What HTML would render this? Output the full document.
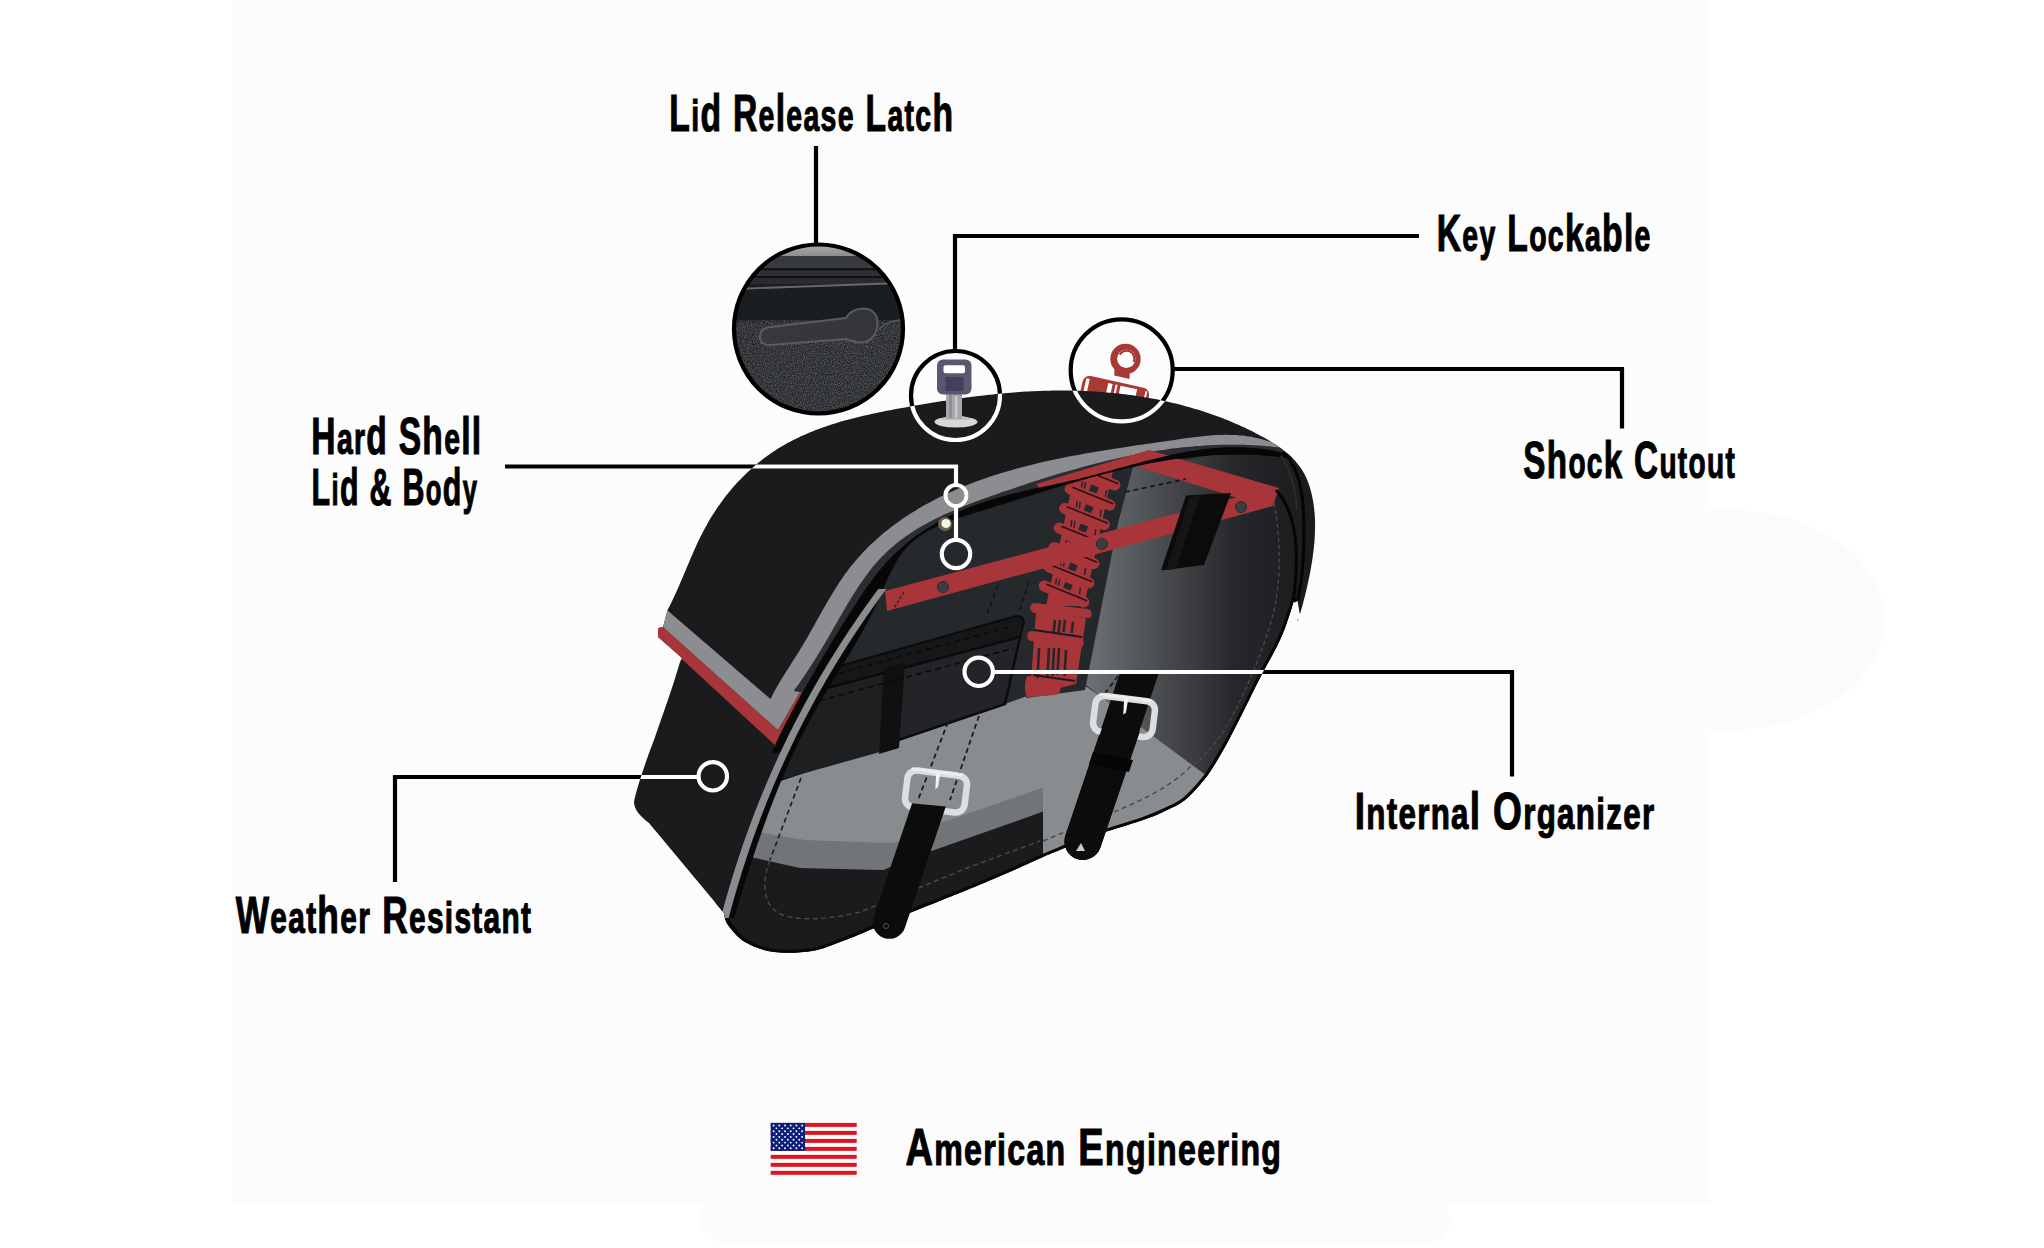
<!DOCTYPE html>
<html><head><meta charset="utf-8"><style>
html,body{margin:0;padding:0;background:#fff;overflow:hidden;width:2044px;height:1248px;}
svg{display:block;}
text{font-family:"Liberation Sans",sans-serif;font-weight:bold;font-size:51.5px;fill:#000;stroke:#000;stroke-width:1.1px;vector-effect:non-scaling-stroke;}
</style></head><body>
<svg width="2044" height="1248" viewBox="0 0 2044 1248">
<defs><clipPath id="bagclip"><path d="M667.5,610.2 L668.8,607.6 L670.2,604.9 L671.5,602.2 L672.8,599.5 L674.1,596.8 L675.3,594.1 L676.6,591.4 L677.8,588.6 L679.0,585.9 L680.2,583.1 L681.4,580.3 L682.6,577.6 L683.7,574.8 L684.9,572.0 L686.1,569.2 L687.2,566.4 L688.4,563.7 L689.6,560.9 L690.8,558.1 L692.0,555.3 L693.2,552.6 L694.4,549.8 L695.7,547.0 L696.9,544.3 L698.2,541.6 L699.5,538.8 L700.8,536.1 L702.2,533.4 L703.6,530.7 L705.0,528.0 L706.5,525.4 L707.9,522.8 L709.5,520.1 L711.0,517.5 L712.6,515.0 L714.2,512.4 L715.9,509.9 L717.6,507.3 L719.3,504.9 L721.1,502.4 L722.9,499.9 L724.7,497.5 L726.6,495.1 L728.5,492.8 L730.4,490.4 L732.4,488.1 L734.4,485.8 L736.4,483.6 L738.5,481.3 L740.6,479.2 L742.7,477.0 L744.8,474.9 L747.0,472.8 L749.2,470.7 L751.4,468.7 L753.7,466.7 L756.0,464.7 L758.3,462.8 L760.6,460.9 L763.0,459.1 L765.4,457.3 L767.8,455.5 L770.3,453.8 L772.7,452.1 L775.2,450.4 L777.7,448.8 L780.3,447.3 L782.8,445.7 L785.4,444.2 L788.0,442.8 L790.6,441.4 L793.3,440.0 L796.0,438.7 L798.7,437.4 L801.4,436.1 L804.1,434.9 L806.8,433.7 L809.6,432.5 L812.4,431.4 L815.2,430.3 L818.0,429.2 L820.8,428.2 L823.6,427.2 L826.5,426.2 L829.3,425.2 L832.2,424.3 L835.1,423.4 L838.0,422.5 L840.9,421.6 L843.8,420.8 L846.8,420.0 L849.7,419.2 L852.7,418.4 L855.6,417.7 L858.6,416.9 L861.6,416.2 L864.5,415.5 L867.5,414.9 L870.5,414.2 L873.5,413.5 L876.5,412.9 L879.5,412.3 L882.5,411.7 L885.5,411.1 L888.5,410.5 L891.5,409.9 L894.5,409.3 L897.5,408.8 L900.5,408.2 L903.6,407.7 L906.6,407.2 L909.6,406.6 L912.6,406.1 L915.6,405.6 L918.6,405.1 L921.6,404.5 L924.5,404.0 L927.5,403.5 L930.5,403.0 L933.5,402.6 L936.5,402.1 L939.5,401.6 L942.4,401.1 L945.4,400.7 L948.4,400.2 L951.4,399.8 L954.3,399.3 L957.3,398.9 L960.3,398.5 L963.2,398.0 L966.2,397.6 L969.2,397.2 L972.1,396.8 L975.1,396.5 L978.1,396.1 L981.0,395.7 L984.0,395.4 L987.0,395.0 L989.9,394.7 L992.9,394.4 L995.9,394.1 L998.8,393.8 L1001.8,393.5 L1004.8,393.2 L1007.7,393.0 L1010.7,392.7 L1013.7,392.5 L1016.6,392.2 L1019.6,392.0 L1022.6,391.8 L1025.6,391.6 L1028.5,391.5 L1031.5,391.3 L1034.5,391.2 L1037.5,391.0 L1040.5,390.9 L1043.4,390.8 L1046.4,390.7 L1049.4,390.7 L1052.4,390.6 L1055.4,390.6 L1058.4,390.5 L1061.4,390.5 L1064.4,390.5 L1067.4,390.6 L1070.4,390.6 L1073.5,390.7 L1076.5,390.7 L1079.5,390.8 L1082.5,390.9 L1085.5,391.0 L1088.6,391.2 L1091.6,391.3 L1094.6,391.5 L1097.6,391.7 L1100.7,391.9 L1103.7,392.2 L1106.7,392.4 L1109.7,392.7 L1112.8,393.0 L1115.8,393.3 L1118.8,393.6 L1121.8,394.0 L1124.9,394.3 L1127.9,394.7 L1130.9,395.1 L1133.9,395.5 L1136.9,396.0 L1140.0,396.4 L1143.0,396.9 L1146.0,397.4 L1149.0,397.9 L1152.0,398.5 L1155.0,399.1 L1158.0,399.6 L1160.9,400.3 L1163.9,400.9 L1166.9,401.5 L1169.9,402.2 L1172.8,402.9 L1175.8,403.6 L1178.8,404.3 L1181.7,405.1 L1184.6,405.9 L1187.6,406.7 L1190.5,407.5 L1193.4,408.4 L1196.3,409.2 L1199.3,410.1 L1202.2,411.0 L1205.0,412.0 L1207.9,412.9 L1210.8,413.9 L1213.7,414.9 L1216.5,416.0 L1219.4,417.0 L1222.2,418.1 L1225.0,419.2 L1227.9,420.3 L1230.7,421.5 L1233.5,422.7 L1236.3,423.9 L1239.0,425.1 L1241.8,426.4 L1244.6,427.6 L1247.3,429.0 L1250.0,430.3 L1252.7,431.6 L1255.4,433.0 L1258.1,434.4 L1260.8,435.9 L1263.5,437.3 L1266.1,438.8 L1268.7,440.3 L1271.3,441.9 L1273.9,443.5 L1276.4,445.1 L1278.8,446.8 L1281.2,448.6 L1283.6,450.4 L1285.9,452.2 L1288.1,454.1 L1290.3,456.0 L1292.4,458.0 L1294.4,460.1 L1296.3,462.2 L1298.1,464.4 L1299.8,466.7 L1301.5,469.1 L1303.0,471.5 L1304.4,474.0 L1305.7,476.6 L1306.9,479.3 L1308.0,482.0 L1309.0,484.7 L1309.9,487.6 L1310.7,490.4 L1311.5,493.3 L1312.1,496.2 L1312.7,499.2 L1313.3,502.2 L1313.7,505.1 L1314.1,508.2 L1314.4,511.2 L1314.7,514.2 L1314.9,517.3 L1315.0,520.4 L1315.1,523.5 L1315.1,526.6 L1315.0,529.7 L1314.9,532.8 L1314.8,535.9 L1314.6,539.0 L1314.4,542.2 L1314.1,545.3 L1313.8,548.4 L1313.4,551.5 L1313.0,554.6 L1312.6,557.8 L1312.1,560.9 L1311.6,563.9 L1311.1,567.0 L1310.6,570.1 L1310.0,573.2 L1309.4,576.2 L1308.7,579.2 L1308.1,582.2 L1307.4,585.2 L1306.8,588.2 L1306.1,591.1 L1305.4,594.0 L1304.7,596.9 L1303.9,599.7 L1303.2,602.6 L1302.5,605.4 L1301.7,608.1 L1300.9,610.9 L1300.1,613.6 L1299.3,616.3 L1298.5,619.0 L1297.7,621.6 L1294,600 C1293.3,603.0 1288.3,619.3 1285.0,628.0 C1281.7,636.7 1278.7,642.7 1275.0,650.0 C1271.3,657.3 1267.3,663.7 1263.0,672.0 C1258.7,680.3 1253.3,691.3 1249.0,700.0 C1244.7,708.7 1240.8,716.5 1237.0,724.0 C1233.2,731.5 1229.7,738.3 1226.0,745.0 C1222.3,751.7 1218.7,758.2 1215.0,764.0 C1211.3,769.8 1209.0,774.0 1204.0,780.0 C1199.0,786.0 1191.5,794.8 1185.0,800.0 C1178.5,805.2 1172.0,807.7 1165.0,811.0 C1158.0,814.3 1155.0,815.8 1143.0,820.0 C1131.0,824.2 1106.5,831.2 1093.0,836.0 C1079.5,840.8 1070.3,845.5 1062.0,849.0 C1053.7,852.5 1052.5,852.8 1043.0,857.0 C1033.5,861.2 1017.7,868.5 1005.0,874.0 C992.3,879.5 977.5,885.7 967.0,890.0 C956.5,894.3 952.0,896.0 942.0,900.0 C932.0,904.0 919.8,908.7 907.0,914.0 C894.2,919.3 876.2,927.3 865.0,932.0 C853.8,936.7 848.8,938.8 840.0,942.0 C831.2,945.2 823.0,949.3 812.0,951.0 C801.0,952.7 785.2,953.5 774.0,952.0 C762.8,950.5 752.7,946.5 745.0,942.0 C737.3,937.5 731.5,929.8 728.0,925.0 C724.5,920.2 724.7,915.0 724.0,913.0 L649,823 C641,817 634,810 634,802 C636,790 648,755 654,740 C662,716 672,690 680,662 L682,658 L658,637 L658,628 L663,627 Z"/></clipPath></defs>
<rect width="2044" height="1248" fill="#fff"/>
<rect x="232" y="0" width="1478" height="1205" fill="#fcfcfc"/>
<rect x="700" y="1200" width="750" height="42" rx="20" fill="#fcfcfc"/>
<rect x="540" y="45" width="590" height="145" rx="72" fill="#fbfbfb"/>
<ellipse cx="1727" cy="620" rx="158" ry="110" fill="#fbfbfb"/>
<g transform="translate(1090.4,376) rotate(12.4)">
<rect x="-6.5" y="0" width="68" height="30" rx="7" ry="7" fill="#a83a36"/>
<rect x="-3.5" y="3" width="3.5" height="30" fill="#fff"/>
<rect x="19" y="3" width="4.5" height="30" fill="#fff"/>
<rect x="26.5" y="3" width="2.0" height="30" fill="#fff"/>
<rect x="31.5" y="3" width="17.0" height="30" fill="#fff"/>
<rect x="57" y="3" width="2" height="30" fill="#fff"/>
</g>
<path d="M667.5,610.2 L668.8,607.6 L670.2,604.9 L671.5,602.2 L672.8,599.5 L674.1,596.8 L675.3,594.1 L676.6,591.4 L677.8,588.6 L679.0,585.9 L680.2,583.1 L681.4,580.3 L682.6,577.6 L683.7,574.8 L684.9,572.0 L686.1,569.2 L687.2,566.4 L688.4,563.7 L689.6,560.9 L690.8,558.1 L692.0,555.3 L693.2,552.6 L694.4,549.8 L695.7,547.0 L696.9,544.3 L698.2,541.6 L699.5,538.8 L700.8,536.1 L702.2,533.4 L703.6,530.7 L705.0,528.0 L706.5,525.4 L707.9,522.8 L709.5,520.1 L711.0,517.5 L712.6,515.0 L714.2,512.4 L715.9,509.9 L717.6,507.3 L719.3,504.9 L721.1,502.4 L722.9,499.9 L724.7,497.5 L726.6,495.1 L728.5,492.8 L730.4,490.4 L732.4,488.1 L734.4,485.8 L736.4,483.6 L738.5,481.3 L740.6,479.2 L742.7,477.0 L744.8,474.9 L747.0,472.8 L749.2,470.7 L751.4,468.7 L753.7,466.7 L756.0,464.7 L758.3,462.8 L760.6,460.9 L763.0,459.1 L765.4,457.3 L767.8,455.5 L770.3,453.8 L772.7,452.1 L775.2,450.4 L777.7,448.8 L780.3,447.3 L782.8,445.7 L785.4,444.2 L788.0,442.8 L790.6,441.4 L793.3,440.0 L796.0,438.7 L798.7,437.4 L801.4,436.1 L804.1,434.9 L806.8,433.7 L809.6,432.5 L812.4,431.4 L815.2,430.3 L818.0,429.2 L820.8,428.2 L823.6,427.2 L826.5,426.2 L829.3,425.2 L832.2,424.3 L835.1,423.4 L838.0,422.5 L840.9,421.6 L843.8,420.8 L846.8,420.0 L849.7,419.2 L852.7,418.4 L855.6,417.7 L858.6,416.9 L861.6,416.2 L864.5,415.5 L867.5,414.9 L870.5,414.2 L873.5,413.5 L876.5,412.9 L879.5,412.3 L882.5,411.7 L885.5,411.1 L888.5,410.5 L891.5,409.9 L894.5,409.3 L897.5,408.8 L900.5,408.2 L903.6,407.7 L906.6,407.2 L909.6,406.6 L912.6,406.1 L915.6,405.6 L918.6,405.1 L921.6,404.5 L924.5,404.0 L927.5,403.5 L930.5,403.0 L933.5,402.6 L936.5,402.1 L939.5,401.6 L942.4,401.1 L945.4,400.7 L948.4,400.2 L951.4,399.8 L954.3,399.3 L957.3,398.9 L960.3,398.5 L963.2,398.0 L966.2,397.6 L969.2,397.2 L972.1,396.8 L975.1,396.5 L978.1,396.1 L981.0,395.7 L984.0,395.4 L987.0,395.0 L989.9,394.7 L992.9,394.4 L995.9,394.1 L998.8,393.8 L1001.8,393.5 L1004.8,393.2 L1007.7,393.0 L1010.7,392.7 L1013.7,392.5 L1016.6,392.2 L1019.6,392.0 L1022.6,391.8 L1025.6,391.6 L1028.5,391.5 L1031.5,391.3 L1034.5,391.2 L1037.5,391.0 L1040.5,390.9 L1043.4,390.8 L1046.4,390.7 L1049.4,390.7 L1052.4,390.6 L1055.4,390.6 L1058.4,390.5 L1061.4,390.5 L1064.4,390.5 L1067.4,390.6 L1070.4,390.6 L1073.5,390.7 L1076.5,390.7 L1079.5,390.8 L1082.5,390.9 L1085.5,391.0 L1088.6,391.2 L1091.6,391.3 L1094.6,391.5 L1097.6,391.7 L1100.7,391.9 L1103.7,392.2 L1106.7,392.4 L1109.7,392.7 L1112.8,393.0 L1115.8,393.3 L1118.8,393.6 L1121.8,394.0 L1124.9,394.3 L1127.9,394.7 L1130.9,395.1 L1133.9,395.5 L1136.9,396.0 L1140.0,396.4 L1143.0,396.9 L1146.0,397.4 L1149.0,397.9 L1152.0,398.5 L1155.0,399.1 L1158.0,399.6 L1160.9,400.3 L1163.9,400.9 L1166.9,401.5 L1169.9,402.2 L1172.8,402.9 L1175.8,403.6 L1178.8,404.3 L1181.7,405.1 L1184.6,405.9 L1187.6,406.7 L1190.5,407.5 L1193.4,408.4 L1196.3,409.2 L1199.3,410.1 L1202.2,411.0 L1205.0,412.0 L1207.9,412.9 L1210.8,413.9 L1213.7,414.9 L1216.5,416.0 L1219.4,417.0 L1222.2,418.1 L1225.0,419.2 L1227.9,420.3 L1230.7,421.5 L1233.5,422.7 L1236.3,423.9 L1239.0,425.1 L1241.8,426.4 L1244.6,427.6 L1247.3,429.0 L1250.0,430.3 L1252.7,431.6 L1255.4,433.0 L1258.1,434.4 L1260.8,435.9 L1263.5,437.3 L1266.1,438.8 L1268.7,440.3 L1271.3,441.9 L1273.9,443.5 L1276.4,445.1 L1278.8,446.8 L1281.2,448.6 L1283.6,450.4 L1285.9,452.2 L1288.1,454.1 L1290.3,456.0 L1292.4,458.0 L1294.4,460.1 L1296.3,462.2 L1298.1,464.4 L1299.8,466.7 L1301.5,469.1 L1303.0,471.5 L1304.4,474.0 L1305.7,476.6 L1306.9,479.3 L1308.0,482.0 L1309.0,484.7 L1309.9,487.6 L1310.7,490.4 L1311.5,493.3 L1312.1,496.2 L1312.7,499.2 L1313.3,502.2 L1313.7,505.1 L1314.1,508.2 L1314.4,511.2 L1314.7,514.2 L1314.9,517.3 L1315.0,520.4 L1315.1,523.5 L1315.1,526.6 L1315.0,529.7 L1314.9,532.8 L1314.8,535.9 L1314.6,539.0 L1314.4,542.2 L1314.1,545.3 L1313.8,548.4 L1313.4,551.5 L1313.0,554.6 L1312.6,557.8 L1312.1,560.9 L1311.6,563.9 L1311.1,567.0 L1310.6,570.1 L1310.0,573.2 L1309.4,576.2 L1308.7,579.2 L1308.1,582.2 L1307.4,585.2 L1306.8,588.2 L1306.1,591.1 L1305.4,594.0 L1304.7,596.9 L1303.9,599.7 L1303.2,602.6 L1302.5,605.4 L1301.7,608.1 L1300.9,610.9 L1300.1,613.6 L1299.3,616.3 L1298.5,619.0 L1297.7,621.6 L1294,600 C1293.3,603.0 1288.3,619.3 1285.0,628.0 C1281.7,636.7 1278.7,642.7 1275.0,650.0 C1271.3,657.3 1267.3,663.7 1263.0,672.0 C1258.7,680.3 1253.3,691.3 1249.0,700.0 C1244.7,708.7 1240.8,716.5 1237.0,724.0 C1233.2,731.5 1229.7,738.3 1226.0,745.0 C1222.3,751.7 1218.7,758.2 1215.0,764.0 C1211.3,769.8 1209.0,774.0 1204.0,780.0 C1199.0,786.0 1191.5,794.8 1185.0,800.0 C1178.5,805.2 1172.0,807.7 1165.0,811.0 C1158.0,814.3 1155.0,815.8 1143.0,820.0 C1131.0,824.2 1106.5,831.2 1093.0,836.0 C1079.5,840.8 1070.3,845.5 1062.0,849.0 C1053.7,852.5 1052.5,852.8 1043.0,857.0 C1033.5,861.2 1017.7,868.5 1005.0,874.0 C992.3,879.5 977.5,885.7 967.0,890.0 C956.5,894.3 952.0,896.0 942.0,900.0 C932.0,904.0 919.8,908.7 907.0,914.0 C894.2,919.3 876.2,927.3 865.0,932.0 C853.8,936.7 848.8,938.8 840.0,942.0 C831.2,945.2 823.0,949.3 812.0,951.0 C801.0,952.7 785.2,953.5 774.0,952.0 C762.8,950.5 752.7,946.5 745.0,942.0 C737.3,937.5 731.5,929.8 728.0,925.0 C724.5,920.2 724.7,915.0 724.0,913.0 L649,823 C641,817 634,810 634,802 C636,790 648,755 654,740 C662,716 672,690 680,662 L682,658 L658,637 L658,628 L663,627 Z" fill="#1b1b1d"/>
<g clip-path="url(#bagclip)"><path d="M1292.2,458.5 L1289.1,458.1 L1286.1,457.7 L1283.1,457.3 L1280.0,456.9 L1277.0,456.5 L1274.0,456.2 L1270.9,455.9 L1267.9,455.7 L1264.9,455.4 L1261.9,455.2 L1258.8,455.0 L1255.8,454.9 L1252.8,454.7 L1249.8,454.6 L1246.8,454.5 L1243.8,454.5 L1240.8,454.4 L1237.8,454.4 L1234.8,454.4 L1231.8,454.5 L1228.8,454.5 L1225.8,454.6 L1222.9,454.7 L1219.9,454.8 L1216.9,455.0 L1213.9,455.1 L1210.9,455.3 L1208.0,455.5 L1205.0,455.8 L1202.0,456.0 L1199.1,456.3 L1196.1,456.6 L1193.1,456.9 L1190.2,457.2 L1187.2,457.5 L1184.3,457.9 L1181.3,458.3 L1178.3,458.7 L1175.4,459.1 L1172.4,459.6 L1169.5,460.0 L1166.5,460.5 L1163.6,461.0 L1160.7,461.5 L1157.7,462.0 L1154.8,462.5 L1151.8,463.1 L1148.9,463.6 L1146.0,464.2 L1143.0,464.8 L1140.1,465.4 L1137.1,466.0 L1134.2,466.7 L1131.3,467.3 L1128.3,468.0 L1125.4,468.6 L1122.5,469.3 L1119.6,470.0 L1116.6,470.7 L1113.7,471.5 L1110.8,472.2 L1107.9,472.9 L1104.9,473.7 L1102.0,474.4 L1099.1,475.2 L1096.2,476.0 L1093.2,476.8 L1090.3,477.6 L1087.4,478.4 L1084.5,479.2 L1081.5,480.0 L1078.6,480.9 L1075.7,481.7 L1072.8,482.5 L1069.9,483.4 L1066.9,484.2 L1064.0,485.1 L1061.1,486.0 L1058.2,486.9 L1055.2,487.7 L1052.3,488.6 L1049.4,489.5 L1046.5,490.4 L1043.5,491.3 L1040.6,492.2 L1037.7,493.1 L1034.8,494.0 L1031.9,494.9 L1028.9,495.9 L1026.0,496.8 L1023.1,497.7 L1020.1,498.6 L1017.2,499.5 L1014.3,500.5 L1011.4,501.4 L1008.4,502.3 L1005.5,503.2 L1002.6,504.2 L999.6,505.1 L996.7,506.0 L993.8,506.9 L990.8,507.9 L987.9,508.8 L984.9,509.7 L982.0,510.6 L979.1,511.5 L976.1,512.4 L973.2,513.3 L970.2,514.3 L967.3,515.2 L964.4,516.1 L961.5,517.1 L958.6,518.0 L955.7,519.0 L952.9,520.0 L950.0,521.0 L947.2,522.1 L944.5,523.2 L941.7,524.3 L939.0,525.5 L936.4,526.7 L933.8,527.9 L931.2,529.2 L928.6,530.6 L926.2,532.0 L923.7,533.4 L921.4,535.0 L919.0,536.6 L916.8,538.2 L914.6,539.9 L912.5,541.7 L910.4,543.6 L908.4,545.6 L906.5,547.6 L904.7,549.7 L902.9,551.9 L901.2,554.2 L899.6,556.5 L898.0,558.9 L896.5,561.4 L895.0,563.9 L893.6,566.5 L892.2,569.2 L890.9,571.8 L889.6,574.5 L888.3,577.3 L887.0,580.1 L885.7,582.9 L884.5,585.7 L883.3,588.5 L882.0,591.3 L880.8,594.2 L879.6,597.0 L878.3,599.8 L877.0,602.6 L875.8,605.4 L874.5,608.2 L873.1,611.0 L871.8,613.7 L870.4,616.5 L869.0,619.2 L867.6,621.9 L866.2,624.6 L864.7,627.3 L863.3,629.9 L861.8,632.6 L860.3,635.2 L858.8,637.9 L857.3,640.5 L855.8,643.1 L854.3,645.7 L852.7,648.3 L851.2,650.9 L849.6,653.5 L848.1,656.1 L846.5,658.6 L844.9,661.2 L843.4,663.8 L841.8,666.3 L840.2,668.9 L838.6,671.4 L837.1,674.0 L835.5,676.6 L833.9,679.1 L832.3,681.7 L830.8,684.2 L829.2,686.8 L827.6,689.4 L826.1,691.9 L824.6,694.5 L823.0,697.1 L821.5,699.7 L820.0,702.3 L818.5,704.8 L817.0,707.5 L815.5,710.1 L814.0,712.7 L812.6,715.3 L811.1,718.0 L809.7,720.6 L808.3,723.3 L806.9,725.9 L805.5,728.6 L804.1,731.3 L802.7,734.0 L801.4,736.7 L800.0,739.4 L798.7,742.1 L797.4,744.8 L796.1,747.5 L794.8,750.2 L793.5,753.0 L792.3,755.7 L791.0,758.5 L789.7,761.2 L788.5,764.0 L787.3,766.8 L786.1,769.5 L784.9,772.3 L783.7,775.1 L782.5,777.9 L781.3,780.7 L780.1,783.5 L779.0,786.3 L777.8,789.1 L776.7,791.9 L775.6,794.7 L774.5,797.5 L773.4,800.4 L772.3,803.2 L771.2,806.0 L770.1,808.9 L769.0,811.7 L768.0,814.5 L766.9,817.4 L765.9,820.2 L764.8,823.1 L763.8,825.9 L762.8,828.8 L761.8,831.7 L760.8,834.5 L759.8,837.4 L758.8,840.2 L757.8,843.1 L756.8,846.0 L755.8,848.8 L754.9,851.7 L753.9,854.6 L753.0,857.4 L752.0,860.3 L751.1,863.2 L750.2,866.1 L749.2,868.9 L748.3,871.8 L747.4,874.7 L746.5,877.5 L745.6,880.4 L744.7,883.3 L743.8,886.2 L742.9,889.0 L742.1,891.9 L741.2,894.8 L740.3,897.6 L739.4,900.5 L738.6,903.3 L737.7,906.2 L736.9,909.0 L736.0,911.9 L735.2,914.8 L734.3,917.6 L725,916C725.8,917.7 726.7,921.7 730.0,926.0 C733.3,930.3 737.7,937.7 745.0,942.0 C752.3,946.3 762.8,950.5 774.0,952.0 C785.2,953.5 801.0,952.7 812.0,951.0 C823.0,949.3 831.2,945.2 840.0,942.0 C848.8,938.8 853.8,936.7 865.0,932.0 C876.2,927.3 894.2,919.3 907.0,914.0 C919.8,908.7 932.0,904.0 942.0,900.0 C952.0,896.0 956.5,894.3 967.0,890.0 C977.5,885.7 992.3,879.5 1005.0,874.0 C1017.7,868.5 1033.5,861.2 1043.0,857.0 C1052.5,852.8 1053.7,852.5 1062.0,849.0 C1070.3,845.5 1079.5,840.8 1093.0,836.0 C1106.5,831.2 1131.0,824.2 1143.0,820.0 C1155.0,815.8 1158.0,814.3 1165.0,811.0 C1172.0,807.7 1178.5,805.2 1185.0,800.0 C1191.5,794.8 1199.0,786.0 1204.0,780.0 C1209.0,774.0 1211.3,769.8 1215.0,764.0 C1218.7,758.2 1222.3,751.7 1226.0,745.0 C1229.7,738.3 1233.2,731.5 1237.0,724.0 C1240.8,716.5 1244.7,708.7 1249.0,700.0 C1253.3,691.3 1258.7,680.3 1263.0,672.0 C1267.3,663.7 1271.3,657.3 1275.0,650.0 C1278.7,642.7 1281.7,636.7 1285.0,628.0 C1288.3,619.3 1293.3,603.0 1295.0,598.0 L1300,560 L1301,520 L1300,485 L1296,468 Z" fill="#26292c"/>
<defs><linearGradient id="wallg" x1="1085" y1="0" x2="1300" y2="0" gradientUnits="userSpaceOnUse"><stop offset="0" stop-color="#6f7275"/><stop offset="0.35" stop-color="#4a4d50"/><stop offset="0.7" stop-color="#26272a"/><stop offset="1" stop-color="#1c1d1f"/></linearGradient></defs>
<path d="M1134.0,463.0 L1077.0,678.0 L1100.0,696.0 L1149.0,733.0 L1199.0,770.0 L1208.0,776.0 L1215.0,764.0 L1226.0,745.0 L1237.0,724.0 L1249.0,700.0 L1263.0,672.0 L1275.0,650.0 L1285.0,628.0 L1295.0,598.0 L1300.0,560.0 L1301.0,520.0 L1300.0,485.0 L1296.0,468.0 L1280.0,456.0 L1230.0,451.0 L1172.0,463.0 Z" fill="url(#wallg)"/>
<path d="M780.0,780.0 L1005.0,704.0 L1075.0,679.0 L1100.0,696.0 L1149.0,733.0 L1199.0,770.0 L1207.0,776.0 L1204.0,780.0 L1185.0,800.0 L1165.0,811.0 L1143.0,820.0 L1093.0,835.0 L1062.0,849.0 L1043.0,857.0 L1005.0,874.0 L967.0,890.0 L942.0,900.0 L907.0,914.0 L865.0,932.0 L840.0,942.0 L812.0,951.0 L774.0,952.0 L745.0,942.0 L730.0,926.0 L725.0,916.0 L735.0,880.0 L750.0,840.0 L765.0,800.0 Z" fill="#898c8f"/>
<path d="M757.0,832.0 L805.0,840.0 L888.0,843.0 L912.0,840.0 L935.0,825.0 L1043.0,787.5 L1043.0,811.6 L930.0,851.5 L883.0,870.0 L800.0,868.0 L751.0,857.0 Z" fill="#727578"/>
<path d="M751.0,857.0 L800.0,868.0 L883.0,870.0 L930.0,851.5 L1043.0,811.6 L1043.0,856.0 L1005.0,873.0 L967.0,889.0 L942.0,899.0 L907.0,914.0 L880.0,928.0 L865.0,933.0 L840.0,942.0 L812.0,951.0 L774.0,952.0 L745.0,942.0 L730.0,926.0 L725.0,916.0 L735.0,880.0 Z" fill="#1b1b1d"/>
<path d="M790.0,676.0 L847.0,664.0 L1016.0,616.0 L1022.0,617.0 L1024.0,622.0 L1020.0,637.0 L790.0,700.0 Z" fill="#161719" stroke="#0b0b0c" stroke-width="2"/>
<path d="M790.0,698.0 L1020.0,637.0 L1005.0,704.0 L780.0,780.0 Z" fill="#232427" stroke="#0b0b0c" stroke-width="2.5"/>
<path d="M790,700 L884,676 L880,752 L780,780 Z" fill="#1e1f21"/>
<path d="M884.0,668.0 L905.0,662.0 L899.0,748.0 L879.0,754.0 Z" fill="#101011"/>
<g stroke="#0a0a0b" stroke-width="1.6" stroke-dasharray="6,4" fill="none"><path d="M800,684 L1012,626"/><path d="M800,706 L1014,648"/></g>
<path d="M1062,470 L1130,462 L1085,690 L1026,698 Z" fill="#25282b"/>
<path d="M1036,612 L1086,618 L1076,684 L1052,690 L1030,694 Z" fill="#a83539"/>
<path d="M1034,603 L1088,609 C1093,610 1093,618 1088,618 L1034,613 C1029,612 1029,603 1034,603 Z" fill="#a83539"/>
<path d="M1031,631 L1080,638 C1085,639 1085,647 1080,647 L1031,641 C1026,640 1026,631 1031,631 Z" fill="#a83539"/>
<path d="M1028,676 L1058,679 C1062,680 1062,694 1056,695 L1028,697 C1024,697 1024,676 1028,676 Z" fill="#a83539"/>
<path d="M1055,620 L1053.5,633" stroke="#25282b" stroke-width="2.6"/>
<path d="M1060,620 L1058.5,633" stroke="#25282b" stroke-width="2.6"/>
<path d="M1065,620 L1063.5,632" stroke="#25282b" stroke-width="2.6"/>
<path d="M1073,622 L1071.5,633" stroke="#25282b" stroke-width="2.6"/>
<path d="M1049,648 L1047.5,676" stroke="#25282b" stroke-width="2.6"/>
<path d="M1054,648 L1052.5,676" stroke="#25282b" stroke-width="2.6"/>
<path d="M1059,648 L1057.5,675" stroke="#25282b" stroke-width="2.6"/>
<path d="M1066,650 L1064.5,676" stroke="#25282b" stroke-width="2.6"/>
<path d="M1039,648 L1037.5,678" stroke="#25282b" stroke-width="2.6"/>
<path d="M1034,630 L1082,637" stroke="#1a1b1d" stroke-width="2"/>
<path d="M1033,675 L1075,681" stroke="#1a1b1d" stroke-width="2"/>
<path d="M1076,468 L1114,466 L1084,606 L1046,606 Z" fill="#a83539"/>
<rect x="1090.5" y="485.0" width="8" height="8" fill="#25282b" transform="rotate(22 1092.5 487.0)"/>
<path d="M1082.5,481.0 L1081.5,488.0 M1085.5,482.0 L1084.5,489.0 M1106.5,490.0 L1105.5,497.0" stroke="#25282b" stroke-width="1.6"/>
<rect x="1085.2" y="504.8" width="8" height="8" fill="#25282b" transform="rotate(22 1087.2 506.8)"/>
<path d="M1077.2,500.8 L1076.2,507.8 M1080.2,501.8 L1079.2,508.8 M1101.2,509.8 L1100.2,516.8" stroke="#25282b" stroke-width="1.6"/>
<rect x="1079.8" y="524.2" width="8" height="8" fill="#25282b" transform="rotate(22 1081.8 526.2)"/>
<path d="M1071.8,520.2 L1070.8,527.2 M1074.8,521.2 L1073.8,528.2 M1095.8,529.2 L1094.8,536.2" stroke="#25282b" stroke-width="1.6"/>
<rect x="1074.5" y="543.8" width="8" height="8" fill="#25282b" transform="rotate(22 1076.5 545.8)"/>
<path d="M1066.5,539.8 L1065.5,546.8 M1069.5,540.8 L1068.5,547.8 M1090.5,548.8 L1089.5,555.8" stroke="#25282b" stroke-width="1.6"/>
<rect x="1069.5" y="563.2" width="8" height="8" fill="#25282b" transform="rotate(22 1071.5 565.2)"/>
<path d="M1061.5,559.2 L1060.5,566.2 M1064.5,560.2 L1063.5,567.2 M1085.5,568.2 L1084.5,575.2" stroke="#25282b" stroke-width="1.6"/>
<rect x="1064.5" y="582.5" width="8" height="8" fill="#25282b" transform="rotate(22 1066.5 584.5)"/>
<path d="M1056.5,578.5 L1055.5,585.5 M1059.5,579.5 L1058.5,586.5 M1080.5,587.5 L1079.5,594.5" stroke="#25282b" stroke-width="1.6"/>
<g transform="rotate(22 1095 477)">
<rect x="1068.0" y="471.5" width="54" height="11" rx="5.5" ry="5.5" fill="#a83539"/>
<path d="M1075.0,474.5 L1119.0,474.5" stroke="#2a1213" stroke-width="1.6"/>
</g>
<g transform="rotate(22 1090 497)">
<rect x="1063.0" y="491.5" width="54" height="11" rx="5.5" ry="5.5" fill="#a83539"/>
<path d="M1070.0,494.5 L1114.0,494.5" stroke="#2a1213" stroke-width="1.6"/>
</g>
<g transform="rotate(22 1084.5 516.5)">
<rect x="1057.5" y="511.0" width="54" height="11" rx="5.5" ry="5.5" fill="#a83539"/>
<path d="M1064.5,514.0 L1108.5,514.0" stroke="#2a1213" stroke-width="1.6"/>
</g>
<g transform="rotate(22 1079 536)">
<rect x="1052.0" y="530.5" width="54" height="11" rx="5.5" ry="5.5" fill="#a83539"/>
<path d="M1059.0,533.5 L1103.0,533.5" stroke="#2a1213" stroke-width="1.6"/>
</g>
<g transform="rotate(22 1074 555.5)">
<rect x="1047.0" y="550.0" width="54" height="11" rx="5.5" ry="5.5" fill="#a83539"/>
<path d="M1054.0,553.0 L1098.0,553.0" stroke="#2a1213" stroke-width="1.6"/>
</g>
<g transform="rotate(22 1069 575)">
<rect x="1042.0" y="569.5" width="54" height="11" rx="5.5" ry="5.5" fill="#a83539"/>
<path d="M1049.0,572.5 L1093.0,572.5" stroke="#2a1213" stroke-width="1.6"/>
</g>
<g transform="rotate(22 1064 594)">
<rect x="1037.0" y="588.5" width="54" height="11" rx="5.5" ry="5.5" fill="#a83539"/>
<path d="M1044.0,591.5 L1088.0,591.5" stroke="#2a1213" stroke-width="1.6"/>
</g>
<path d="M1295.0,598.0 C1293.3,603.0 1288.3,619.3 1285.0,628.0 C1281.7,636.7 1278.7,642.7 1275.0,650.0 C1271.3,657.3 1267.3,663.7 1263.0,672.0 C1258.7,680.3 1253.3,691.3 1249.0,700.0 C1244.7,708.7 1240.8,716.5 1237.0,724.0 C1233.2,731.5 1229.7,738.3 1226.0,745.0 C1222.3,751.7 1218.7,758.2 1215.0,764.0 C1211.3,769.8 1209.0,774.0 1204.0,780.0 C1199.0,786.0 1191.5,794.8 1185.0,800.0 C1178.5,805.2 1172.0,807.7 1165.0,811.0 C1158.0,814.3 1155.0,815.8 1143.0,820.0 C1131.0,824.2 1106.5,831.2 1093.0,836.0 C1079.5,840.8 1070.3,845.5 1062.0,849.0 C1053.7,852.5 1052.5,852.8 1043.0,857.0 C1033.5,861.2 1017.7,868.5 1005.0,874.0 C992.3,879.5 977.5,885.7 967.0,890.0 C956.5,894.3 952.0,896.0 942.0,900.0 C932.0,904.0 919.8,908.7 907.0,914.0 C894.2,919.3 876.2,927.3 865.0,932.0 C853.8,936.7 848.8,938.8 840.0,942.0 C831.2,945.2 823.0,949.3 812.0,951.0 C801.0,952.7 785.2,953.5 774.0,952.0 C762.8,950.5 752.3,946.3 745.0,942.0 C737.7,937.7 733.3,930.3 730.0,926.0 C726.7,921.7 725.8,917.7 725.0,916.0" fill="none" stroke="#070707" stroke-width="6"/>
<path d="M1290.3,454.7 L1287.2,453.9 L1284.1,453.1 L1281.0,452.4 L1277.9,451.7 L1274.8,451.1 L1271.8,450.5 L1268.7,450.0 L1265.7,449.5 L1262.6,449.1 L1259.6,448.7 L1256.6,448.4 L1253.5,448.1 L1250.5,447.9 L1247.5,447.7 L1244.5,447.6 L1241.5,447.4 L1238.5,447.4 L1235.6,447.4 L1232.6,447.4 L1229.6,447.4 L1226.6,447.5 L1223.7,447.6 L1220.7,447.8 L1217.8,448.0 L1214.8,448.2 L1211.9,448.5 L1209.0,448.8 L1206.0,449.1 L1203.1,449.5 L1200.2,449.8 L1197.2,450.2 L1194.3,450.7 L1191.4,451.1 L1188.5,451.6 L1185.6,452.1 L1182.6,452.7 L1179.7,453.2 L1176.8,453.8 L1173.9,454.4 L1171.0,455.0 L1168.1,455.7 L1165.2,456.3 L1162.3,457.0 L1159.4,457.7 L1156.5,458.4 L1153.6,459.1 L1150.7,459.8 L1147.7,460.5 L1144.8,461.3 L1141.9,462.0 L1139.0,462.8 L1136.1,463.6 L1133.2,464.3 L1130.3,465.1 L1127.4,465.9 L1124.4,466.7 L1121.5,467.5 L1118.6,468.3 L1115.7,469.1 L1112.7,469.9 L1109.8,470.7 L1106.9,471.5 L1103.9,472.3 L1101.0,473.1 L1098.0,473.9 L1095.1,474.7 L1092.1,475.4 L1089.2,476.2 L1086.2,477.0 L1083.2,477.7 L1080.2,478.5 L1077.3,479.2 L1074.3,479.9 L1071.3,480.6 L1068.3,481.3 L1065.3,482.0 L1062.3,482.7 L1059.2,483.3 L1056.2,484.0 L1053.2,484.7 L1050.2,485.3 L1047.2,486.0 L1044.2,486.6 L1041.2,487.3 L1038.1,488.0 L1035.1,488.6 L1032.1,489.3 L1029.1,490.0 L1026.1,490.6 L1023.1,491.3 L1020.1,492.0 L1017.1,492.7 L1014.2,493.5 L1011.2,494.2 L1008.2,494.9 L1005.3,495.7 L1002.3,496.5 L999.4,497.3 L996.5,498.1 L993.6,499.0 L990.7,499.8 L987.8,500.7 L984.9,501.6 L982.1,502.6 L979.2,503.5 L976.4,504.5 L973.6,505.5 L970.8,506.6 L968.0,507.7 L965.2,508.8 L962.5,509.9 L959.7,511.1 L957.0,512.3 L954.3,513.5 L951.7,514.8 L949.0,516.1 L946.4,517.4 L943.7,518.7 L941.1,520.1 L938.6,521.5 L936.0,523.0 L933.5,524.4 L931.0,525.9 L928.5,527.5 L926.0,529.0 L923.6,530.6 L921.1,532.3 L918.8,533.9 L916.4,535.6 L914.0,537.3 L911.7,539.1 L909.4,540.9 L907.1,542.7 L904.9,544.6 L902.7,546.5 L900.5,548.4 L898.3,550.3 L896.2,552.3 L894.1,554.4 L892.0,556.4 L889.9,558.5 L887.9,560.6 L885.9,562.8 L884.0,565.0 L882.0,567.2 L880.1,569.5 L878.3,571.8 L876.4,574.1 L874.6,576.5 L872.8,578.8 L871.0,581.2 L869.3,583.7 L867.5,586.1 L865.8,588.6 L864.1,591.1 L862.4,593.6 L860.8,596.1 L859.1,598.6 L857.4,601.1 L855.8,603.7 L854.2,606.2 L852.5,608.8 L850.9,611.3 L849.3,613.9 L847.6,616.4 L846.0,619.0 L844.4,621.6 L842.8,624.1 L841.2,626.7 L839.6,629.3 L838.0,631.9 L836.4,634.4 L834.8,637.0 L833.2,639.6 L831.7,642.2 L830.1,644.8 L828.5,647.4 L827.0,650.0 L825.4,652.6 L823.9,655.2 L822.3,657.8 L820.8,660.4 L819.2,663.0 L817.7,665.6 L816.2,668.2 L814.7,670.9 L813.2,673.5 L811.7,676.1 L810.2,678.7 L808.7,681.4 L807.2,684.0 L805.7,686.7 L804.2,689.3 L802.8,691.9 L801.3,694.6 L799.9,697.2 L798.4,699.9 L797.0,702.6 L795.6,705.2 L794.1,707.9 L792.7,710.6 L791.3,713.2 L789.9,715.9 L788.5,718.6 L787.1,721.3 L785.8,723.9 L784.4,726.6 L783.0,729.3 L781.7,732.0 L780.3,734.7 L779.0,737.4 L777.6,740.1 L776.3,742.8 L775.0,745.5 L773.7,748.3 L772.4,751.0 L771.1,753.7 L769.8,756.4 L768.5,759.2 L767.3,761.9 L766.0,764.6 L764.8,767.4 L763.5,770.1 L762.3,772.8 L761.1,775.6 L759.8,778.4 L758.6,781.1 L757.4,783.9 L756.2,786.6 L755.1,789.4 L753.9,792.2 L752.7,795.0 L751.6,797.7 L750.4,800.5 L749.3,803.3 L748.2,806.1 L747.0,808.9 L745.9,811.7 L744.8,814.5 L743.8,817.3 L742.7,820.1 L741.6,822.9 L740.5,825.8 L739.5,828.6 L738.4,831.4 L737.4,834.2 L736.4,837.1 L735.4,839.9 L734.4,842.8 L733.4,845.6 L732.4,848.5 L731.4,851.3 L730.5,854.2 L729.5,857.0 L728.6,859.9 L727.6,862.8 L726.7,865.7 L725.8,868.6 L724.9,871.4 L724.0,874.3 L723.1,877.2 L722.3,880.1 L721.4,883.0 L720.6,885.9 L719.7,888.9 L718.9,891.8 L718.1,894.7 L717.3,897.6 L716.5,900.6 L715.7,903.5 L715.0,906.4 L714.2,909.4 L713.5,912.3 L712.7,915.3 L712.0,918.3 L734.3,917.6 L735.2,914.8 L736.0,911.9 L736.9,909.0 L737.7,906.2 L738.6,903.3 L739.4,900.5 L740.3,897.6 L741.2,894.8 L742.1,891.9 L742.9,889.0 L743.8,886.2 L744.7,883.3 L745.6,880.4 L746.5,877.5 L747.4,874.7 L748.3,871.8 L749.2,868.9 L750.2,866.1 L751.1,863.2 L752.0,860.3 L753.0,857.4 L753.9,854.6 L754.9,851.7 L755.8,848.8 L756.8,846.0 L757.8,843.1 L758.8,840.2 L759.8,837.4 L760.8,834.5 L761.8,831.7 L762.8,828.8 L763.8,825.9 L764.8,823.1 L765.9,820.2 L766.9,817.4 L768.0,814.5 L769.0,811.7 L770.1,808.9 L771.2,806.0 L772.3,803.2 L773.4,800.4 L774.5,797.5 L775.6,794.7 L776.7,791.9 L777.8,789.1 L779.0,786.3 L780.1,783.5 L781.3,780.7 L782.5,777.9 L783.7,775.1 L784.9,772.3 L786.1,769.5 L787.3,766.8 L788.5,764.0 L789.7,761.2 L791.0,758.5 L792.3,755.7 L793.5,753.0 L794.8,750.2 L796.1,747.5 L797.4,744.8 L798.7,742.1 L800.0,739.4 L801.4,736.7 L802.7,734.0 L804.1,731.3 L805.5,728.6 L806.9,725.9 L808.3,723.3 L809.7,720.6 L811.1,718.0 L812.6,715.3 L814.0,712.7 L815.5,710.1 L817.0,707.5 L818.5,704.8 L820.0,702.3 L821.5,699.7 L823.0,697.1 L824.6,694.5 L826.1,691.9 L827.6,689.4 L829.2,686.8 L830.8,684.2 L832.3,681.7 L833.9,679.1 L835.5,676.6 L837.1,674.0 L838.6,671.4 L840.2,668.9 L841.8,666.3 L843.4,663.8 L844.9,661.2 L846.5,658.6 L848.1,656.1 L849.6,653.5 L851.2,650.9 L852.7,648.3 L854.3,645.7 L855.8,643.1 L857.3,640.5 L858.8,637.9 L860.3,635.2 L861.8,632.6 L863.3,629.9 L864.7,627.3 L866.2,624.6 L867.6,621.9 L869.0,619.2 L870.4,616.5 L871.8,613.7 L873.1,611.0 L874.5,608.2 L875.8,605.4 L877.0,602.6 L878.3,599.8 L879.6,597.0 L880.8,594.2 L882.0,591.3 L883.3,588.5 L884.5,585.7 L885.7,582.9 L887.0,580.1 L888.3,577.3 L889.6,574.5 L890.9,571.8 L892.2,569.2 L893.6,566.5 L895.0,563.9 L896.5,561.4 L898.0,558.9 L899.6,556.5 L901.2,554.2 L902.9,551.9 L904.7,549.7 L906.5,547.6 L908.4,545.6 L910.4,543.6 L912.5,541.7 L914.6,539.9 L916.8,538.2 L919.0,536.6 L921.4,535.0 L923.7,533.4 L926.2,532.0 L928.6,530.6 L931.2,529.2 L933.8,527.9 L936.4,526.7 L939.0,525.5 L941.7,524.3 L944.5,523.2 L947.2,522.1 L950.0,521.0 L952.9,520.0 L955.7,519.0 L958.6,518.0 L961.5,517.1 L964.4,516.1 L967.3,515.2 L970.2,514.3 L973.2,513.3 L976.1,512.4 L979.1,511.5 L982.0,510.6 L984.9,509.7 L987.9,508.8 L990.8,507.9 L993.8,506.9 L996.7,506.0 L999.6,505.1 L1002.6,504.2 L1005.5,503.2 L1008.4,502.3 L1011.4,501.4 L1014.3,500.5 L1017.2,499.5 L1020.1,498.6 L1023.1,497.7 L1026.0,496.8 L1028.9,495.9 L1031.9,494.9 L1034.8,494.0 L1037.7,493.1 L1040.6,492.2 L1043.5,491.3 L1046.5,490.4 L1049.4,489.5 L1052.3,488.6 L1055.2,487.7 L1058.2,486.9 L1061.1,486.0 L1064.0,485.1 L1066.9,484.2 L1069.9,483.4 L1072.8,482.5 L1075.7,481.7 L1078.6,480.9 L1081.5,480.0 L1084.5,479.2 L1087.4,478.4 L1090.3,477.6 L1093.2,476.8 L1096.2,476.0 L1099.1,475.2 L1102.0,474.4 L1104.9,473.7 L1107.9,472.9 L1110.8,472.2 L1113.7,471.5 L1116.6,470.7 L1119.6,470.0 L1122.5,469.3 L1125.4,468.6 L1128.3,468.0 L1131.3,467.3 L1134.2,466.7 L1137.1,466.0 L1140.1,465.4 L1143.0,464.8 L1146.0,464.2 L1148.9,463.6 L1151.8,463.1 L1154.8,462.5 L1157.7,462.0 L1160.7,461.5 L1163.6,461.0 L1166.5,460.5 L1169.5,460.0 L1172.4,459.6 L1175.4,459.1 L1178.3,458.7 L1181.3,458.3 L1184.3,457.9 L1187.2,457.5 L1190.2,457.2 L1193.1,456.9 L1196.1,456.6 L1199.1,456.3 L1202.0,456.0 L1205.0,455.8 L1208.0,455.5 L1210.9,455.3 L1213.9,455.1 L1216.9,455.0 L1219.9,454.8 L1222.9,454.7 L1225.8,454.6 L1228.8,454.5 L1231.8,454.5 L1234.8,454.4 L1237.8,454.4 L1240.8,454.4 L1243.8,454.5 L1246.8,454.5 L1249.8,454.6 L1252.8,454.7 L1255.8,454.9 L1258.8,455.0 L1261.9,455.2 L1264.9,455.4 L1267.9,455.7 L1270.9,455.9 L1274.0,456.2 L1277.0,456.5 L1280.0,456.9 L1283.1,457.3 L1286.1,457.7 L1289.1,458.1 L1292.2,458.5 Z" fill="#070707"/>
<path d="M771.1,753.7 L769.8,756.4 L768.5,759.2 L767.3,761.9 L766.0,764.6 L764.8,767.4 L763.5,770.1 L762.3,772.8 L761.1,775.6 L759.8,778.4 L758.6,781.1 L757.4,783.9 L756.2,786.6 L755.1,789.4 L753.9,792.2 L752.7,795.0 L751.6,797.7 L750.4,800.5 L749.3,803.3 L748.2,806.1 L747.0,808.9 L745.9,811.7 L744.8,814.5 L743.8,817.3 L742.7,820.1 L741.6,822.9 L740.5,825.8 L739.5,828.6 L738.4,831.4 L737.4,834.2 L736.4,837.1 L735.4,839.9 L734.4,842.8 L733.4,845.6 L732.4,848.5 L731.4,851.3 L730.5,854.2 L729.5,857.0 L728.6,859.9 L727.6,862.8 L726.7,865.7 L725.8,868.6 L724.9,871.4 L724.0,874.3 L723.1,877.2 L722.3,880.1 L721.4,883.0 L720.6,885.9 L719.7,888.9 L718.9,891.8 L718.1,894.7 L717.3,897.6 L716.5,900.6 L715.7,903.5 L715.0,906.4 L714.2,909.4 L713.5,912.3 L712.7,915.3 L712.0,918.3 L720.7,918.0 L721.0,917.0 L722.0,913.0 L723.1,909.0 L724.2,905.0 L725.3,901.0 L726.5,897.0 L727.6,893.0 L728.8,889.0 L730.0,885.0 L731.2,881.0 L732.4,877.0 L733.6,873.0 L734.9,869.0 L736.2,865.0 L737.5,861.0 L738.8,857.0 L740.1,853.0 L741.5,849.0 L742.8,845.0 L744.2,841.0 L745.6,837.0 L747.1,833.0 L748.5,829.0 L750.0,825.0 L751.5,821.0 L753.0,817.0 L754.5,813.0 L756.1,809.0 L757.7,805.0 L759.2,801.0 L760.9,797.0 L762.5,793.0 L764.2,789.0 L765.8,785.0 L767.5,781.0 L769.3,777.0 L771.0,773.0 L772.8,769.0 L774.6,765.0 L776.4,761.0 L778.2,757.0 L780.1,753.0 Z" fill="#1b1b1d" stroke="#1b1b1d" stroke-width="1"/>
<path d="M878.3,589.0 L875.3,593.0 L872.4,597.0 L869.5,601.0 L866.6,605.0 L863.8,609.0 L861.0,613.0 L858.2,617.0 L855.5,621.0 L852.8,625.0 L850.1,629.0 L847.4,633.0 L844.8,637.0 L842.2,641.0 L839.6,645.0 L837.1,649.0 L834.6,653.0 L832.1,657.0 L829.6,661.0 L827.2,665.0 L824.8,669.0 L822.4,673.0 L820.0,677.0 L817.7,681.0 L815.4,685.0 L813.1,689.0 L810.9,693.0 L808.6,697.0 L806.4,701.0 L804.2,705.0 L802.1,709.0 L800.0,713.0 L797.9,717.0 L795.8,721.0 L793.7,725.0 L791.7,729.0 L789.7,733.0 L787.7,737.0 L785.8,741.0 L783.9,745.0 L782.0,749.0 L780.1,753.0 L778.2,757.0 L776.4,761.0 L774.6,765.0 L772.8,769.0 L771.0,773.0 L769.3,777.0 L767.5,781.0 L765.8,785.0 L764.2,789.0 L762.5,793.0 L760.9,797.0 L759.2,801.0 L757.7,805.0 L756.1,809.0 L754.5,813.0 L753.0,817.0 L751.5,821.0 L750.0,825.0 L748.5,829.0 L747.1,833.0 L745.6,837.0 L744.2,841.0 L742.8,845.0 L741.5,849.0 L740.1,853.0 L738.8,857.0 L737.5,861.0 L736.2,865.0 L734.9,869.0 L733.6,873.0 L732.4,877.0 L731.2,881.0 L730.0,885.0 L728.8,889.0 L727.6,893.0 L726.5,897.0 L725.3,901.0 L724.2,905.0 L723.1,909.0 L722.0,913.0 L721.0,917.0 L720.7,918.0 L728.7,918.0 L729.0,917.0 L730.0,913.0 L731.1,909.0 L732.2,905.0 L733.3,901.0 L734.5,897.0 L735.6,893.0 L736.8,889.0 L738.0,885.0 L739.2,881.0 L740.4,877.0 L741.6,873.0 L742.9,869.0 L744.2,865.0 L745.5,861.0 L746.8,857.0 L748.1,853.0 L749.5,849.0 L750.8,845.0 L752.2,841.0 L753.6,837.0 L755.1,833.0 L756.5,829.0 L758.0,825.0 L759.5,821.0 L761.0,817.0 L762.5,813.0 L764.1,809.0 L765.7,805.0 L767.2,801.0 L768.9,797.0 L770.5,793.0 L772.2,789.0 L773.8,785.0 L775.5,781.0 L777.3,777.0 L779.0,773.0 L780.8,769.0 L782.6,765.0 L784.4,761.0 L786.2,757.0 L788.1,753.0 L790.0,749.0 L791.9,745.0 L793.8,741.0 L795.7,737.0 L797.7,733.0 L799.7,729.0 L801.7,725.0 L803.8,721.0 L805.9,717.0 L808.0,713.0 L810.1,709.0 L812.2,705.0 L814.4,701.0 L816.6,697.0 L818.9,693.0 L821.1,689.0 L823.4,685.0 L825.7,681.0 L828.0,677.0 L830.4,673.0 L832.8,669.0 L835.2,665.0 L837.6,661.0 L840.1,657.0 L842.6,653.0 L845.1,649.0 L847.6,645.0 L850.2,641.0 L852.8,637.0 L855.4,633.0 L858.1,629.0 L860.8,625.0 L863.5,621.0 L866.2,617.0 L869.0,613.0 L871.8,609.0 L874.6,605.0 L877.5,601.0 L880.4,597.0 L883.3,593.0 L886.3,589.0 Z" fill="#8a8d90"/>
<path d="M1286.0,448.3 L1283.0,447.9 L1280.0,447.6 L1277.0,447.2 L1274.0,446.9 L1271.0,446.6 L1268.0,446.3 L1265.0,446.0 L1262.0,445.8 L1259.0,445.6 L1256.0,445.4 L1253.0,445.2 L1250.0,445.1 L1247.0,444.9 L1244.0,444.8 L1241.0,444.8 L1238.0,444.7 L1235.0,444.7 L1232.0,444.7 L1229.0,444.7 L1226.0,444.7 L1223.0,444.8 L1220.0,444.8 L1217.0,444.9 L1214.0,445.0 L1211.0,445.2 L1208.0,445.3 L1205.0,445.5 L1202.1,445.7 L1199.1,445.9 L1196.1,446.1 L1193.1,446.4 L1190.1,446.7 L1187.1,446.9 L1184.2,447.2 L1181.2,447.6 L1178.2,447.9 L1175.2,448.3 L1172.2,448.6 L1169.3,449.0 L1166.3,449.4 L1163.3,449.9 L1160.3,450.3 L1157.4,450.8 L1154.4,451.2 L1151.4,451.7 L1148.5,452.2 L1145.5,452.7 L1142.5,453.3 L1139.6,453.8 L1136.6,454.4 L1133.6,455.0 L1130.7,455.6 L1127.7,456.2 L1124.8,456.8 L1121.8,457.4 L1118.9,458.1 L1115.9,458.7 L1112.9,459.4 L1110.0,460.1 L1107.0,460.8 L1104.1,461.5 L1101.1,462.2 L1098.2,463.0 L1095.3,463.7 L1092.3,464.5 L1089.4,465.2 L1086.4,466.0 L1083.5,466.8 L1080.5,467.6 L1077.6,468.4 L1074.7,469.2 L1071.7,470.0 L1068.8,470.9 L1065.9,471.7 L1062.9,472.6 L1060.0,473.5 L1057.1,474.3 L1054.1,475.2 L1051.2,476.1 L1048.3,477.0 L1045.4,477.9 L1042.5,478.8 L1039.5,479.8 L1036.6,480.7 L1033.7,481.6 L1030.8,482.6 L1027.9,483.5 L1025.0,484.5 L1022.0,485.5 L1019.1,486.4 L1016.2,487.4 L1013.3,488.4 L1010.4,489.4 L1007.5,490.4 L1004.6,491.3 L1001.7,492.3 L998.8,493.4 L995.9,494.4 L993.0,495.4 L990.1,496.4 L987.2,497.4 L984.4,498.5 L981.5,499.5 L978.6,500.6 L975.8,501.6 L972.9,502.7 L970.1,503.8 L967.2,504.9 L964.4,506.0 L961.6,507.1 L958.8,508.3 L956.0,509.5 L953.2,510.7 L950.4,511.9 L947.7,513.1 L945.0,514.3 L942.2,515.6 L939.5,516.9 L936.8,518.2 L934.2,519.5 L931.5,520.9 L928.9,522.3 L926.3,523.7 L923.7,525.1 L921.2,526.6 L918.6,528.1 L916.1,529.6 L913.6,531.2 L911.1,532.8 L908.7,534.4 L906.3,536.1 L903.9,537.8 L901.6,539.5 L899.2,541.3 L896.9,543.1 L894.7,545.0 L892.4,546.9 L890.2,548.8 L888.0,550.8 L885.9,552.8 L883.8,554.9 L881.7,557.0 L879.7,559.1 L877.7,561.3 L875.7,563.5 L873.8,565.8 L871.9,568.1 L870.0,570.5 L868.2,572.9 L866.4,575.3 L864.6,577.7 L862.8,580.2 L861.1,582.7 L859.4,585.3 L857.7,587.8 L856.0,590.4 L854.4,593.0 L852.7,595.6 L851.1,598.2 L849.5,600.9 L847.9,603.5 L846.3,606.2 L844.7,608.9 L843.2,611.6 L841.6,614.3 L840.0,617.0 L838.5,619.7 L837.0,622.4 L835.4,625.1 L833.9,627.8 L832.3,630.4 L830.8,633.1 L829.3,635.8 L827.7,638.4 L826.2,641.1 L824.6,643.7 L823.1,646.3 L821.5,649.0 L819.9,651.6 L818.4,654.1 L816.8,656.7 L815.2,659.2 L813.6,661.8 L812.0,664.3 L810.4,666.8 L808.8,669.3 L807.1,671.8 L805.5,674.2 L803.9,676.7 L802.2,679.1 L800.5,681.5 L798.8,683.9 L797.1,686.3 L795.4,688.6 L793.7,691.0 L802.8,691.9 L804.2,689.3 L805.7,686.7 L807.2,684.0 L808.7,681.4 L810.2,678.7 L811.7,676.1 L813.2,673.5 L814.7,670.9 L816.2,668.2 L817.7,665.6 L819.2,663.0 L820.8,660.4 L822.3,657.8 L823.9,655.2 L825.4,652.6 L827.0,650.0 L828.5,647.4 L830.1,644.8 L831.7,642.2 L833.2,639.6 L834.8,637.0 L836.4,634.4 L838.0,631.9 L839.6,629.3 L841.2,626.7 L842.8,624.1 L844.4,621.6 L846.0,619.0 L847.6,616.4 L849.3,613.9 L850.9,611.3 L852.5,608.8 L854.2,606.2 L855.8,603.7 L857.4,601.1 L859.1,598.6 L860.8,596.1 L862.4,593.6 L864.1,591.1 L865.8,588.6 L867.5,586.1 L869.3,583.7 L871.0,581.2 L872.8,578.8 L874.6,576.5 L876.4,574.1 L878.3,571.8 L880.1,569.5 L882.0,567.2 L884.0,565.0 L885.9,562.8 L887.9,560.6 L889.9,558.5 L892.0,556.4 L894.1,554.4 L896.2,552.3 L898.3,550.3 L900.5,548.4 L902.7,546.5 L904.9,544.6 L907.1,542.7 L909.4,540.9 L911.7,539.1 L914.0,537.3 L916.4,535.6 L918.8,533.9 L921.1,532.3 L923.6,530.6 L926.0,529.0 L928.5,527.5 L931.0,525.9 L933.5,524.4 L936.0,523.0 L938.6,521.5 L941.1,520.1 L943.7,518.7 L946.4,517.4 L949.0,516.1 L951.7,514.8 L954.3,513.5 L957.0,512.3 L959.7,511.1 L962.5,509.9 L965.2,508.8 L968.0,507.7 L970.8,506.6 L973.6,505.5 L976.4,504.5 L979.2,503.5 L982.1,502.6 L984.9,501.6 L987.8,500.7 L990.7,499.8 L993.6,499.0 L996.5,498.1 L999.4,497.3 L1002.3,496.5 L1005.3,495.7 L1008.2,494.9 L1011.2,494.2 L1014.2,493.5 L1017.1,492.7 L1020.1,492.0 L1023.1,491.3 L1026.1,490.6 L1029.1,490.0 L1032.1,489.3 L1035.1,488.6 L1038.1,488.0 L1041.2,487.3 L1044.2,486.6 L1047.2,486.0 L1050.2,485.3 L1053.2,484.7 L1056.2,484.0 L1059.2,483.3 L1062.3,482.7 L1065.3,482.0 L1068.3,481.3 L1071.3,480.6 L1074.3,479.9 L1077.3,479.2 L1080.2,478.5 L1083.2,477.7 L1086.2,477.0 L1089.2,476.2 L1092.1,475.4 L1095.1,474.7 L1098.0,473.9 L1101.0,473.1 L1103.9,472.3 L1106.9,471.5 L1109.8,470.7 L1112.7,469.9 L1115.7,469.1 L1118.6,468.3 L1121.5,467.5 L1124.4,466.7 L1127.4,465.9 L1130.3,465.1 L1133.2,464.3 L1136.1,463.6 L1139.0,462.8 L1141.9,462.0 L1144.8,461.3 L1147.7,460.5 L1150.7,459.8 L1153.6,459.1 L1156.5,458.4 L1159.4,457.7 L1162.3,457.0 L1165.2,456.3 L1168.1,455.7 L1171.0,455.0 L1173.9,454.4 L1176.8,453.8 L1179.7,453.2 L1182.6,452.7 L1185.6,452.1 L1188.5,451.6 L1191.4,451.1 L1194.3,450.7 L1197.2,450.2 L1200.2,449.8 L1203.1,449.5 L1206.0,449.1 L1209.0,448.8 L1211.9,448.5 L1214.8,448.2 L1217.8,448.0 L1220.7,447.8 L1223.7,447.6 L1226.6,447.5 L1229.6,447.4 L1232.6,447.4 L1235.6,447.4 L1238.5,447.4 L1241.5,447.4 L1244.5,447.6 L1247.5,447.7 L1250.5,447.9 L1253.5,448.1 L1256.6,448.4 L1259.6,448.7 L1262.6,449.1 L1265.7,449.5 L1268.7,450.0 L1271.8,450.5 L1274.8,451.1 L1277.9,451.7 L1281.0,452.4 L1284.1,453.1 L1287.2,453.9 L1290.3,454.7 Z" fill="#2b2d30"/>
<path d="M658.0,628.0 L663.0,627.0 L778.0,730.0 L800.0,692.0 L802.4,692.0 L799.1,698.0 L795.8,704.0 L792.6,710.0 L789.4,716.0 L786.3,722.0 L783.2,728.0 L780.2,734.0 L777.3,740.0 L774.4,746.0 L776.0,746.0 L658.0,637.0 Z" fill="#a83539"/>
<path d="M1292.5,452.4 L1289.6,450.6 L1286.6,449.0 L1283.6,447.5 L1280.7,446.0 L1277.7,444.7 L1274.8,443.5 L1271.8,442.4 L1268.9,441.3 L1265.9,440.4 L1263.0,439.5 L1260.1,438.7 L1257.1,438.0 L1254.2,437.4 L1251.2,436.8 L1248.3,436.4 L1245.4,436.0 L1242.4,435.6 L1239.5,435.4 L1236.5,435.1 L1233.6,435.0 L1230.7,434.9 L1227.7,434.8 L1224.8,434.8 L1221.8,434.9 L1218.9,435.0 L1216.0,435.1 L1213.0,435.3 L1210.1,435.5 L1207.1,435.8 L1204.2,436.1 L1201.2,436.4 L1198.3,436.7 L1195.3,437.0 L1192.3,437.4 L1189.4,437.8 L1186.4,438.2 L1183.4,438.6 L1180.5,439.1 L1177.5,439.5 L1174.5,439.9 L1171.5,440.4 L1168.5,440.8 L1165.5,441.2 L1162.5,441.7 L1159.5,442.1 L1156.5,442.5 L1153.5,443.0 L1150.5,443.4 L1147.5,443.8 L1144.5,444.3 L1141.5,444.7 L1138.4,445.1 L1135.4,445.6 L1132.4,446.0 L1129.4,446.5 L1126.3,446.9 L1123.3,447.4 L1120.3,447.9 L1117.3,448.3 L1114.2,448.8 L1111.2,449.3 L1108.2,449.7 L1105.1,450.2 L1102.1,450.7 L1099.1,451.2 L1096.0,451.7 L1093.0,452.2 L1090.0,452.8 L1087.0,453.3 L1083.9,453.8 L1080.9,454.4 L1077.9,454.9 L1074.9,455.5 L1071.9,456.0 L1068.8,456.6 L1065.8,457.2 L1062.8,457.8 L1059.8,458.4 L1056.8,459.0 L1053.8,459.7 L1050.8,460.3 L1047.8,461.0 L1044.8,461.6 L1041.9,462.3 L1038.9,463.0 L1035.9,463.7 L1032.9,464.4 L1030.0,465.2 L1027.0,465.9 L1024.1,466.7 L1021.1,467.4 L1018.2,468.2 L1015.2,469.0 L1012.3,469.9 L1009.4,470.7 L1006.5,471.5 L1003.6,472.4 L1000.6,473.3 L997.7,474.2 L994.9,475.1 L992.0,476.0 L989.1,477.0 L986.2,478.0 L983.4,479.0 L980.5,480.0 L977.7,481.0 L974.9,482.1 L972.0,483.1 L969.2,484.2 L966.4,485.3 L963.6,486.5 L960.8,487.6 L958.0,488.8 L955.3,490.0 L952.5,491.2 L949.8,492.4 L947.0,493.7 L944.3,495.0 L941.6,496.3 L938.9,497.6 L936.2,499.0 L933.6,500.3 L930.9,501.7 L928.2,503.2 L925.6,504.6 L923.0,506.1 L920.4,507.6 L917.8,509.1 L915.3,510.7 L912.7,512.2 L910.2,513.8 L907.7,515.4 L905.2,517.1 L902.7,518.8 L900.2,520.5 L897.8,522.2 L895.4,523.9 L893.0,525.7 L890.6,527.5 L888.3,529.4 L885.9,531.2 L883.6,533.1 L881.4,535.0 L879.1,537.0 L876.9,538.9 L874.7,540.9 L872.5,543.0 L870.3,545.0 L868.2,547.1 L866.1,549.2 L864.0,551.3 L862.0,553.5 L860.0,555.7 L858.0,557.9 L856.0,560.2 L854.1,562.5 L852.2,564.8 L850.3,567.1 L848.5,569.5 L846.7,571.9 L844.9,574.3 L843.2,576.8 L841.5,579.3 L839.8,581.8 L838.1,584.3 L836.5,586.9 L834.9,589.5 L833.3,592.1 L831.7,594.7 L830.1,597.3 L828.5,599.9 L827.0,602.6 L825.5,605.2 L823.9,607.9 L822.4,610.6 L820.9,613.3 L819.4,615.9 L817.9,618.6 L816.4,621.3 L814.9,624.0 L813.4,626.7 L811.9,629.3 L810.4,632.0 L808.9,634.7 L807.4,637.3 L805.9,640.0 L804.3,642.6 L802.8,645.2 L801.2,647.8 L799.6,650.4 L798.0,653.0 L796.4,655.5 L794.8,658.1 L793.2,660.6 L791.6,663.1 L790.0,665.7 L788.4,668.2 L786.7,670.7 L785.1,673.2 L783.6,675.8 L782.0,678.3 L780.5,680.8 L778.9,683.4 L777.4,685.9 L776.0,688.5 L774.5,691.1 L773.1,693.7 L771.8,696.4 L770.5,699.1 L667,610 L663,627 L778,730 L800,692 L793.7,691.0 L795.4,688.6 L797.1,686.3 L798.8,683.9 L800.5,681.5 L802.2,679.1 L803.9,676.7 L805.5,674.2 L807.1,671.8 L808.8,669.3 L810.4,666.8 L812.0,664.3 L813.6,661.8 L815.2,659.2 L816.8,656.7 L818.4,654.1 L819.9,651.6 L821.5,649.0 L823.1,646.3 L824.6,643.7 L826.2,641.1 L827.7,638.4 L829.3,635.8 L830.8,633.1 L832.3,630.4 L833.9,627.8 L835.4,625.1 L837.0,622.4 L838.5,619.7 L840.0,617.0 L841.6,614.3 L843.2,611.6 L844.7,608.9 L846.3,606.2 L847.9,603.5 L849.5,600.9 L851.1,598.2 L852.7,595.6 L854.4,593.0 L856.0,590.4 L857.7,587.8 L859.4,585.3 L861.1,582.7 L862.8,580.2 L864.6,577.7 L866.4,575.3 L868.2,572.9 L870.0,570.5 L871.9,568.1 L873.8,565.8 L875.7,563.5 L877.7,561.3 L879.7,559.1 L881.7,557.0 L883.8,554.9 L885.9,552.8 L888.0,550.8 L890.2,548.8 L892.4,546.9 L894.7,545.0 L896.9,543.1 L899.2,541.3 L901.6,539.5 L903.9,537.8 L906.3,536.1 L908.7,534.4 L911.1,532.8 L913.6,531.2 L916.1,529.6 L918.6,528.1 L921.2,526.6 L923.7,525.1 L926.3,523.7 L928.9,522.3 L931.5,520.9 L934.2,519.5 L936.8,518.2 L939.5,516.9 L942.2,515.6 L945.0,514.3 L947.7,513.1 L950.4,511.9 L953.2,510.7 L956.0,509.5 L958.8,508.3 L961.6,507.1 L964.4,506.0 L967.2,504.9 L970.1,503.8 L972.9,502.7 L975.8,501.6 L978.6,500.6 L981.5,499.5 L984.4,498.5 L987.2,497.4 L990.1,496.4 L993.0,495.4 L995.9,494.4 L998.8,493.4 L1001.7,492.3 L1004.6,491.3 L1007.5,490.4 L1010.4,489.4 L1013.3,488.4 L1016.2,487.4 L1019.1,486.4 L1022.0,485.5 L1025.0,484.5 L1027.9,483.5 L1030.8,482.6 L1033.7,481.6 L1036.6,480.7 L1039.5,479.8 L1042.5,478.8 L1045.4,477.9 L1048.3,477.0 L1051.2,476.1 L1054.1,475.2 L1057.1,474.3 L1060.0,473.5 L1062.9,472.6 L1065.9,471.7 L1068.8,470.9 L1071.7,470.0 L1074.7,469.2 L1077.6,468.4 L1080.5,467.6 L1083.5,466.8 L1086.4,466.0 L1089.4,465.2 L1092.3,464.5 L1095.3,463.7 L1098.2,463.0 L1101.1,462.2 L1104.1,461.5 L1107.0,460.8 L1110.0,460.1 L1112.9,459.4 L1115.9,458.7 L1118.9,458.1 L1121.8,457.4 L1124.8,456.8 L1127.7,456.2 L1130.7,455.6 L1133.6,455.0 L1136.6,454.4 L1139.6,453.8 L1142.5,453.3 L1145.5,452.7 L1148.5,452.2 L1151.4,451.7 L1154.4,451.2 L1157.4,450.8 L1160.3,450.3 L1163.3,449.9 L1166.3,449.4 L1169.3,449.0 L1172.2,448.6 L1175.2,448.3 L1178.2,447.9 L1181.2,447.6 L1184.2,447.2 L1187.1,446.9 L1190.1,446.7 L1193.1,446.4 L1196.1,446.1 L1199.1,445.9 L1202.1,445.7 L1205.0,445.5 L1208.0,445.3 L1211.0,445.2 L1214.0,445.0 L1217.0,444.9 L1220.0,444.8 L1223.0,444.8 L1226.0,444.7 L1229.0,444.7 L1232.0,444.7 L1235.0,444.7 L1238.0,444.7 L1241.0,444.8 L1244.0,444.8 L1247.0,444.9 L1250.0,445.1 L1253.0,445.2 L1256.0,445.4 L1259.0,445.6 L1262.0,445.8 L1265.0,446.0 L1268.0,446.3 L1271.0,446.6 L1274.0,446.9 L1277.0,447.2 L1280.0,447.6 L1283.0,447.9 L1286.0,448.3 Z" fill="#8b8d90"/>
<path d="M1036,484 L1149,450 L1279,488 L1273,506 L887,611 L885,591 L1236,497.5 L1132,465 L1042,491 Z" fill="#a83539"/>
<circle cx="943" cy="587" r="5.5" fill="#3c3d3f" stroke="#2a2a2c" stroke-width="1"/>
<circle cx="1102" cy="544" r="5.5" fill="#3c3d3f" stroke="#2a2a2c" stroke-width="1"/>
<circle cx="1241" cy="507" r="5.5" fill="#3c3d3f" stroke="#2a2a2c" stroke-width="1"/>
<path d="M1186,495.5 L1231,493 L1204,565 L1161,570.5 Z" fill="#0b0b0c"/><path d="M1190,497 L1200,496 L1176,569 L1166,570 Z" fill="#151517"/>
<g stroke="#111213" stroke-width="1.6" stroke-dasharray="5,3.5" fill="none"><path d="M998,585 L986,617"/><path d="M1029,581 L1019,612"/><path d="M1125,492 L1186,479"/></g>
<path d="M904,592 L893,610" stroke="#3a1416" stroke-width="1.3" stroke-dasharray="3,2"/>
<circle cx="945" cy="524" r="7" fill="#6b6148"/>
<circle cx="946" cy="523.5" r="4.6" fill="#f4f2ea"/>
<path d="M1290.3,454.7 L1287.2,453.9 L1284.1,453.1 L1281.0,452.4 L1277.9,451.7 L1274.8,451.1 L1271.8,450.5 L1268.7,450.0 L1265.7,449.5 L1262.6,449.1 L1259.6,448.7 L1256.6,448.4 L1253.5,448.1 L1250.5,447.9 L1247.5,447.7 L1244.5,447.6 L1241.5,447.4 L1238.5,447.4 L1235.6,447.4 L1232.6,447.4 L1229.6,447.4 L1226.6,447.5 L1223.7,447.6 L1220.7,447.8 L1217.8,448.0 L1214.8,448.2 L1211.9,448.5 L1209.0,448.8 L1206.0,449.1 L1203.1,449.5 L1200.2,449.8 L1197.2,450.2 L1194.3,450.7 L1191.4,451.1 L1188.5,451.6 L1185.6,452.1 L1182.6,452.7 L1179.7,453.2 L1176.8,453.8 L1173.9,454.4 L1171.0,455.0 L1168.1,455.7 L1165.2,456.3 L1162.3,457.0 L1159.4,457.7 L1156.5,458.4 L1153.6,459.1 L1150.7,459.8 L1147.7,460.5 L1144.8,461.3 L1141.9,462.0 L1139.0,462.8 L1136.1,463.6 L1133.2,464.3 L1130.3,465.1 L1127.4,465.9 L1124.4,466.7 L1121.5,467.5 L1118.6,468.3 L1115.7,469.1 L1112.7,469.9 L1109.8,470.7 L1106.9,471.5 L1103.9,472.3 L1101.0,473.1 L1098.0,473.9 L1095.1,474.7 L1092.1,475.4 L1089.2,476.2 L1086.2,477.0 L1083.2,477.7 L1080.2,478.5 L1077.3,479.2 L1074.3,479.9 L1071.3,480.6 L1068.3,481.3 L1065.3,482.0 L1062.3,482.7 L1059.2,483.3 L1056.2,484.0 L1053.2,484.7 L1050.2,485.3 L1047.2,486.0 L1044.2,486.6 L1041.2,487.3 L1038.1,488.0 L1035.1,488.6 L1032.1,489.3 L1029.1,490.0 L1026.1,490.6 L1023.1,491.3 L1020.1,492.0 L1017.1,492.7 L1014.2,493.5 L1011.2,494.2 L1008.2,494.9 L1005.3,495.7 L1002.3,496.5 L1002.6,504.2 L1005.5,503.2 L1008.4,502.3 L1011.4,501.4 L1014.3,500.5 L1017.2,499.5 L1020.1,498.6 L1023.1,497.7 L1026.0,496.8 L1028.9,495.9 L1031.9,494.9 L1034.8,494.0 L1037.7,493.1 L1040.6,492.2 L1043.5,491.3 L1046.5,490.4 L1049.4,489.5 L1052.3,488.6 L1055.2,487.7 L1058.2,486.9 L1061.1,486.0 L1064.0,485.1 L1066.9,484.2 L1069.9,483.4 L1072.8,482.5 L1075.7,481.7 L1078.6,480.9 L1081.5,480.0 L1084.5,479.2 L1087.4,478.4 L1090.3,477.6 L1093.2,476.8 L1096.2,476.0 L1099.1,475.2 L1102.0,474.4 L1104.9,473.7 L1107.9,472.9 L1110.8,472.2 L1113.7,471.5 L1116.6,470.7 L1119.6,470.0 L1122.5,469.3 L1125.4,468.6 L1128.3,468.0 L1131.3,467.3 L1134.2,466.7 L1137.1,466.0 L1140.1,465.4 L1143.0,464.8 L1146.0,464.2 L1148.9,463.6 L1151.8,463.1 L1154.8,462.5 L1157.7,462.0 L1160.7,461.5 L1163.6,461.0 L1166.5,460.5 L1169.5,460.0 L1172.4,459.6 L1175.4,459.1 L1178.3,458.7 L1181.3,458.3 L1184.3,457.9 L1187.2,457.5 L1190.2,457.2 L1193.1,456.9 L1196.1,456.6 L1199.1,456.3 L1202.0,456.0 L1205.0,455.8 L1208.0,455.5 L1210.9,455.3 L1213.9,455.1 L1216.9,455.0 L1219.9,454.8 L1222.9,454.7 L1225.8,454.6 L1228.8,454.5 L1231.8,454.5 L1234.8,454.4 L1237.8,454.4 L1240.8,454.4 L1243.8,454.5 L1246.8,454.5 L1249.8,454.6 L1252.8,454.7 L1255.8,454.9 L1258.8,455.0 L1261.9,455.2 L1264.9,455.4 L1267.9,455.7 L1270.9,455.9 L1274.0,456.2 L1277.0,456.5 L1280.0,456.9 L1283.1,457.3 L1286.1,457.7 L1289.1,458.1 L1292.2,458.5 Z" fill="#070707"/>
<path d="M1283,452 C1294,462 1301,480 1303,505 C1305,535 1304,570 1298,600" fill="none" stroke="#050505" stroke-width="3"/>
<path d="M1276,490 C1287,502 1294,520 1296,545 C1297,570 1296,585 1293,600" fill="none" stroke="#050505" stroke-width="3"/>
<path d="M1281,456 C1290,470 1296,490 1297,510" fill="none" stroke="#2b2c2e" stroke-width="2"/>
<g stroke="#1a1a1a" stroke-width="1.6" stroke-dasharray="5,3.5" fill="none">
<path d="M801,778 L770,860"/>
</g>
<g stroke="#4a4b4d" stroke-width="1.4" stroke-dasharray="5,3.5" fill="none">
<path d="M770,860 C762,880 762,905 780,914 C800,922 830,919 860,912 L916,889 L967,868 L1040,841"/>
<path d="M1043,841 L1106,815 C1140,802 1172,786 1191,766"/>
</g>
<g stroke="#4a4c4f" stroke-width="1.3" stroke-dasharray="4,3" fill="none">
<path d="M1274,503 C1282,545 1281,590 1270,625 C1262,652 1250,680 1238,705 C1226,730 1210,752 1193,766"/>
</g></g>
<path d="M1293.5,603 L1297.5,601 L1300.5,618 L1297,620 Z" fill="#fff"/>
<g stroke="#1a1a1a" stroke-width="1.8" stroke-dasharray="5,3.5" fill="none"><path d="M948,722 L918,800"/><path d="M979,716 L950,800"/><path d="M1118,676 L1100,700"/><path d="M1150,672 L1140,700"/></g>
<defs><clipPath id="s2clip"><rect x="1000" y="673" width="200" height="260"/></clipPath></defs>
<g clip-path="url(#s2clip)"><path d="M-18.5,0 L18.5,0 L18.5,182.9 A18.5,18.5 0 0 1 -18.5,182.9 Z" transform="translate(1141.0,668.0) rotate(18.52)" fill="#0c0c0c"/></g>
<g transform="translate(1124,716.5) rotate(7)">
<rect x="-30.0" y="-18.0" width="60" height="36" rx="9" ry="9" fill="none" stroke="#dcdedf" stroke-width="6.5"/>
<rect x="-27.0" y="-20.5" width="52" height="3" fill="#eceeef" opacity="0.9"/>
<path d="M-2,-18.0 L2,-18.0 L1.5,-4.0 L-1,-2.0 Z" fill="#f2f3f4"/>
</g>
<defs><clipPath id="s2low"><path d="M1060,722.1 L1200,739.3 L1200,900 L1060,900 Z"/></clipPath></defs>
<g clip-path="url(#s2low)"><path d="M-18.5,0 L18.5,0 L18.5,133.6 A18.5,18.5 0 0 1 -18.5,133.6 Z" transform="translate(1126.0,715.0) rotate(18.79)" fill="#0c0c0c"/></g>
<g transform="translate(936,791.5) rotate(7)">
<rect x="-30.0" y="-18.5" width="60" height="37" rx="9" ry="9" fill="none" stroke="#dcdedf" stroke-width="6.5"/>
<rect x="-27.0" y="-21.0" width="52" height="3" fill="#eceeef" opacity="0.9"/>
<path d="M-2,-18.5 L2,-18.5 L1.5,-4.5 L-1,-2.5 Z" fill="#f2f3f4"/>
</g>
<defs><clipPath id="s1low"><path d="M860,798.5 L1000,811.4 L1000,960 L860,960 Z"/></clipPath></defs>
<g clip-path="url(#s1low)"><path d="M-16.5,0 L16.5,0 L16.5,139.7 A16.5,16.5 0 0 1 -16.5,139.7 Z" transform="translate(934.0,790.0) rotate(18.67)" fill="#0c0c0c"/></g>
<circle cx="886" cy="926" r="2.5" fill="none" stroke="#555" stroke-width="1"/>
<path d="M1076,851 L1081,843 L1085,851 Z" fill="#c9cbcd"/>
<path d="M1093,752 L1133,760 L1129,772 L1089,764 Z" fill="#050505"/>
<g stroke="#000" stroke-width="4.2" fill="none"><line x1="816" y1="146" x2="816" y2="244" />
<circle cx="955.5" cy="395.5" r="44.5" fill="none"/>
<circle cx="1121.7" cy="370.4" r="51" fill="none"/>
<polyline points="1419,236 955,236 955,350" fill="none"/>
<polyline points="1174,369 1622,369 1622,428.5" fill="none"/>
<polyline points="505,466.5 956,466.5 956,485" fill="none"/>
<line x1="956" y1="506" x2="956" y2="540" />
<circle cx="956" cy="495.5" r="10.5" fill="none"/>
<circle cx="956" cy="554" r="14.2" fill="none"/>
<circle cx="978.7" cy="671.8" r="14.2" fill="none"/>
<polyline points="993,672 1512,672 1512,776.5" fill="none"/>
<circle cx="712.8" cy="776.3" r="14.2" fill="none"/>
<polyline points="395,882 395,777 698.5,777" fill="none"/></g>
<g clip-path="url(#bagclip)"><g stroke="#fff" stroke-width="4.2" fill="none"><line x1="816" y1="146" x2="816" y2="244" />
<circle cx="955.5" cy="395.5" r="44.5" fill="none"/>
<circle cx="1121.7" cy="370.4" r="51" fill="none"/>
<polyline points="1419,236 955,236 955,350" fill="none"/>
<polyline points="1174,369 1622,369 1622,428.5" fill="none"/>
<polyline points="505,466.5 956,466.5 956,485" fill="none"/>
<line x1="956" y1="506" x2="956" y2="540" />
<circle cx="956" cy="495.5" r="10.5" fill="none"/>
<circle cx="956" cy="554" r="14.2" fill="none"/>
<circle cx="978.7" cy="671.8" r="14.2" fill="none"/>
<polyline points="993,672 1512,672 1512,776.5" fill="none"/>
<circle cx="712.8" cy="776.3" r="14.2" fill="none"/>
<polyline points="395,882 395,777 698.5,777" fill="none"/></g></g>
<defs><clipPath id="latchclip"><circle cx="818.5" cy="329" r="84"/></clipPath>
<filter id="noise" x="0" y="0" width="100%" height="100%"><feTurbulence type="fractalNoise" baseFrequency="0.9" numOctaves="2" seed="3"/><feColorMatrix type="matrix" values="0 0 0 0 0.27  0 0 0 0 0.28  0 0 0 0 0.29  0 0 0 1.3 -0.45"/></filter><linearGradient id="latchtop" x1="0" y1="245" x2="0" y2="256.3" gradientUnits="userSpaceOnUse"><stop offset="0" stop-color="#a9abad"/><stop offset="1" stop-color="#8a8c8e"/></linearGradient><linearGradient id="handleg" x1="760" y1="0" x2="880" y2="0" gradientUnits="userSpaceOnUse"><stop offset="0" stop-color="#38393c"/><stop offset="1" stop-color="#333538"/></linearGradient></defs>
<g clip-path="url(#latchclip)">
<rect x="734.5" y="245" width="168" height="168" fill="#1b1e21"/>
<rect x="734.5" y="245" width="168" height="11.300000000000011" fill="url(#latchtop)"/>
<rect x="734.5" y="256.3" width="168" height="12" fill="#383a3d"/>
<rect x="734.5" y="268.2" width="168" height="2.2" fill="#111315"/>
<rect x="734.5" y="270.4" width="168" height="5.6" fill="#2e3033"/>
<rect x="734.5" y="276" width="168" height="2" fill="#0f1113"/>
<rect x="734.5" y="278" width="168" height="6" fill="#292b2e"/>
<path d="M735,289 L900,283" stroke="#66686a" stroke-width="1.8"/>
<path d="M730,323 C760,322 800,321 830,321 C860,322 872,330 880,328 C888,322 895,320 905,320 L905,420 L730,420 Z" fill="#25272a"/>
<path d="M730,323 C760,322 800,321 830,321 C860,322 872,330 880,328 C888,322 895,320 905,320 L905,420 L730,420 Z" fill="#000" filter="url(#noise)" opacity="0.85"/>
<path d="M879,329 C886,322 893,320 905,320" stroke="#55575a" stroke-width="1.5" fill="none"/>
<path d="M760,337 C760,331 764,327.5 771,327 L846,318 C850,311 857,308.5 864,308.5 C873,309 878,315 877.5,324 C877,334 871,342 862,342.5 C856,342.5 851,341 846,339 L770,345 C764,345 760,342 760,337 Z" fill="url(#handleg)" stroke="#5a5c5f" stroke-width="2"/>
</g>
<circle cx="818.5" cy="329" r="84.5" fill="none" stroke="#000" stroke-width="4.2"/>
<ellipse cx="956" cy="422" rx="21.5" ry="5.5" fill="#d5d7d9"/>
<path d="M940,420 C946,414 966,414 972,420 Z" fill="#c2c4c6"/>
<rect x="946" y="392" width="16" height="27" fill="#a5a7aa"/>
<rect x="949" y="392" width="3" height="26" fill="#8e9093"/>
<rect x="955" y="396" width="2.5" height="22" fill="#c5c7c9"/>
<rect x="937" y="359.5" width="34.5" height="35" rx="6" ry="6" fill="#5a576f"/>
<rect x="943.5" y="365.2" width="21.5" height="8" rx="2" ry="2" fill="#ffffff"/>
<rect x="945.5" y="377" width="18" height="14" rx="1" ry="1" fill="#433f5a"/>
<path d="M1114.5,366 L1130,366 L1129.5,379 L1114.3,375.5 Z" fill="#a83a36"/>
<circle cx="1125.5" cy="359" r="15.2" fill="#a83a36"/>
<circle cx="1126.3" cy="358.8" r="9.2" fill="#fff"/>
<path d="M1119.66,354.65 A7.9,7.9 0 0 1 1133.66,361.94" fill="none" stroke="#a83a36" stroke-width="2.2"/>
<circle cx="1125.4" cy="359.7" r="6.5" fill="#fff"/>
<text transform="translate(669.33,131.30) scale(0.6541,1)" x="0" y="0" letter-spacing="1.987"><tspan font-size="51.5">L</tspan><tspan font-size="43.5">i</tspan><tspan font-size="51.5">d</tspan><tspan font-size="51.5"> </tspan><tspan font-size="51.5">R</tspan><tspan font-size="43.5">e</tspan><tspan font-size="51.5">l</tspan><tspan font-size="43.5">e</tspan><tspan font-size="43.5">a</tspan><tspan font-size="43.5">s</tspan><tspan font-size="43.5">e</tspan><tspan font-size="51.5"> </tspan><tspan font-size="51.5">L</tspan><tspan font-size="43.5">a</tspan><tspan font-size="43.5">t</tspan><tspan font-size="43.5">c</tspan><tspan font-size="51.5">h</tspan></text>
<text transform="translate(1436.73,251.20) scale(0.6539,1)" x="0" y="0" letter-spacing="1.988"><tspan font-size="51.5">K</tspan><tspan font-size="43.5">e</tspan><tspan font-size="43.5">y</tspan><tspan font-size="51.5"> </tspan><tspan font-size="51.5">L</tspan><tspan font-size="43.5">o</tspan><tspan font-size="43.5">c</tspan><tspan font-size="51.5">k</tspan><tspan font-size="43.5">a</tspan><tspan font-size="51.5">b</tspan><tspan font-size="51.5">l</tspan><tspan font-size="43.5">e</tspan></text>
<text transform="translate(311.34,454.40) scale(0.6515,1)" x="0" y="0" letter-spacing="1.995"><tspan font-size="51.5">H</tspan><tspan font-size="43.5">a</tspan><tspan font-size="43.5">r</tspan><tspan font-size="51.5">d</tspan><tspan font-size="51.5"> </tspan><tspan font-size="51.5">S</tspan><tspan font-size="51.5">h</tspan><tspan font-size="43.5">e</tspan><tspan font-size="51.5">l</tspan><tspan font-size="51.5">l</tspan></text>
<text transform="translate(311.55,504.60) scale(0.5909,1)" x="0" y="0" letter-spacing="2.200"><tspan font-size="51.5">L</tspan><tspan font-size="43.5">i</tspan><tspan font-size="51.5">d</tspan><tspan font-size="51.5"> </tspan><tspan font-size="51.5">&amp;</tspan><tspan font-size="51.5"> </tspan><tspan font-size="51.5">B</tspan><tspan font-size="43.5">o</tspan><tspan font-size="51.5">d</tspan><tspan font-size="43.5">y</tspan></text>
<text transform="translate(1523.35,477.50) scale(0.6453,1)" x="0" y="0" letter-spacing="2.015"><tspan font-size="51.5">S</tspan><tspan font-size="51.5">h</tspan><tspan font-size="43.5">o</tspan><tspan font-size="43.5">c</tspan><tspan font-size="51.5">k</tspan><tspan font-size="51.5"> </tspan><tspan font-size="51.5">C</tspan><tspan font-size="43.5">u</tspan><tspan font-size="43.5">t</tspan><tspan font-size="43.5">o</tspan><tspan font-size="43.5">u</tspan><tspan font-size="43.5">t</tspan></text>
<text transform="translate(1354.69,828.90) scale(0.7201,1)" x="0" y="0" letter-spacing="1.805"><tspan font-size="51.5">I</tspan><tspan font-size="43.5">n</tspan><tspan font-size="43.5">t</tspan><tspan font-size="43.5">e</tspan><tspan font-size="43.5">r</tspan><tspan font-size="43.5">n</tspan><tspan font-size="43.5">a</tspan><tspan font-size="51.5">l</tspan><tspan font-size="51.5"> </tspan><tspan font-size="51.5">O</tspan><tspan font-size="43.5">r</tspan><tspan font-size="43.5">g</tspan><tspan font-size="43.5">a</tspan><tspan font-size="43.5">n</tspan><tspan font-size="43.5">i</tspan><tspan font-size="43.5">z</tspan><tspan font-size="43.5">e</tspan><tspan font-size="43.5">r</tspan></text>
<text transform="translate(235.67,932.80) scale(0.6861,1)" x="0" y="0" letter-spacing="1.895"><tspan font-size="51.5">W</tspan><tspan font-size="43.5">e</tspan><tspan font-size="43.5">a</tspan><tspan font-size="43.5">t</tspan><tspan font-size="51.5">h</tspan><tspan font-size="43.5">e</tspan><tspan font-size="43.5">r</tspan><tspan font-size="51.5"> </tspan><tspan font-size="51.5">R</tspan><tspan font-size="43.5">e</tspan><tspan font-size="43.5">s</tspan><tspan font-size="43.5">i</tspan><tspan font-size="43.5">s</tspan><tspan font-size="43.5">t</tspan><tspan font-size="43.5">a</tspan><tspan font-size="43.5">n</tspan><tspan font-size="43.5">t</tspan></text>
<text transform="translate(905.41,1164.60) scale(0.7386,1)" x="0" y="0" letter-spacing="1.760"><tspan font-size="51.5">A</tspan><tspan font-size="43.5">m</tspan><tspan font-size="43.5">e</tspan><tspan font-size="43.5">r</tspan><tspan font-size="43.5">i</tspan><tspan font-size="43.5">c</tspan><tspan font-size="43.5">a</tspan><tspan font-size="43.5">n</tspan><tspan font-size="51.5"> </tspan><tspan font-size="51.5">E</tspan><tspan font-size="43.5">n</tspan><tspan font-size="43.5">g</tspan><tspan font-size="43.5">i</tspan><tspan font-size="43.5">n</tspan><tspan font-size="43.5">e</tspan><tspan font-size="43.5">e</tspan><tspan font-size="43.5">r</tspan><tspan font-size="43.5">i</tspan><tspan font-size="43.5">n</tspan><tspan font-size="43.5">g</tspan></text>
<rect x="770.7" y="1122.9" width="86" height="51.9" fill="#fff"/>
<rect x="770.7" y="1122.90" width="86" height="3.99" fill="#e0141e"/>
<rect x="770.7" y="1130.88" width="86" height="3.99" fill="#e0141e"/>
<rect x="770.7" y="1138.87" width="86" height="3.99" fill="#e0141e"/>
<rect x="770.7" y="1146.85" width="86" height="3.99" fill="#e0141e"/>
<rect x="770.7" y="1154.84" width="86" height="3.99" fill="#e0141e"/>
<rect x="770.7" y="1162.82" width="86" height="3.99" fill="#e0141e"/>
<rect x="770.7" y="1170.81" width="86" height="3.99" fill="#e0141e"/>
<rect x="770.7" y="1122.9" width="34.4" height="27.95" fill="#0b1f7a"/>
<circle cx="773.60" cy="1125.50" r="0.95" fill="#fff"/>
<circle cx="779.30" cy="1125.50" r="0.95" fill="#fff"/>
<circle cx="785.00" cy="1125.50" r="0.95" fill="#fff"/>
<circle cx="790.70" cy="1125.50" r="0.95" fill="#fff"/>
<circle cx="796.40" cy="1125.50" r="0.95" fill="#fff"/>
<circle cx="802.10" cy="1125.50" r="0.95" fill="#fff"/>
<circle cx="776.45" cy="1128.35" r="0.95" fill="#fff"/>
<circle cx="782.15" cy="1128.35" r="0.95" fill="#fff"/>
<circle cx="787.85" cy="1128.35" r="0.95" fill="#fff"/>
<circle cx="793.55" cy="1128.35" r="0.95" fill="#fff"/>
<circle cx="799.25" cy="1128.35" r="0.95" fill="#fff"/>
<circle cx="773.60" cy="1131.20" r="0.95" fill="#fff"/>
<circle cx="779.30" cy="1131.20" r="0.95" fill="#fff"/>
<circle cx="785.00" cy="1131.20" r="0.95" fill="#fff"/>
<circle cx="790.70" cy="1131.20" r="0.95" fill="#fff"/>
<circle cx="796.40" cy="1131.20" r="0.95" fill="#fff"/>
<circle cx="802.10" cy="1131.20" r="0.95" fill="#fff"/>
<circle cx="776.45" cy="1134.05" r="0.95" fill="#fff"/>
<circle cx="782.15" cy="1134.05" r="0.95" fill="#fff"/>
<circle cx="787.85" cy="1134.05" r="0.95" fill="#fff"/>
<circle cx="793.55" cy="1134.05" r="0.95" fill="#fff"/>
<circle cx="799.25" cy="1134.05" r="0.95" fill="#fff"/>
<circle cx="773.60" cy="1136.90" r="0.95" fill="#fff"/>
<circle cx="779.30" cy="1136.90" r="0.95" fill="#fff"/>
<circle cx="785.00" cy="1136.90" r="0.95" fill="#fff"/>
<circle cx="790.70" cy="1136.90" r="0.95" fill="#fff"/>
<circle cx="796.40" cy="1136.90" r="0.95" fill="#fff"/>
<circle cx="802.10" cy="1136.90" r="0.95" fill="#fff"/>
<circle cx="776.45" cy="1139.75" r="0.95" fill="#fff"/>
<circle cx="782.15" cy="1139.75" r="0.95" fill="#fff"/>
<circle cx="787.85" cy="1139.75" r="0.95" fill="#fff"/>
<circle cx="793.55" cy="1139.75" r="0.95" fill="#fff"/>
<circle cx="799.25" cy="1139.75" r="0.95" fill="#fff"/>
<circle cx="773.60" cy="1142.60" r="0.95" fill="#fff"/>
<circle cx="779.30" cy="1142.60" r="0.95" fill="#fff"/>
<circle cx="785.00" cy="1142.60" r="0.95" fill="#fff"/>
<circle cx="790.70" cy="1142.60" r="0.95" fill="#fff"/>
<circle cx="796.40" cy="1142.60" r="0.95" fill="#fff"/>
<circle cx="802.10" cy="1142.60" r="0.95" fill="#fff"/>
<circle cx="776.45" cy="1145.45" r="0.95" fill="#fff"/>
<circle cx="782.15" cy="1145.45" r="0.95" fill="#fff"/>
<circle cx="787.85" cy="1145.45" r="0.95" fill="#fff"/>
<circle cx="793.55" cy="1145.45" r="0.95" fill="#fff"/>
<circle cx="799.25" cy="1145.45" r="0.95" fill="#fff"/>
<circle cx="773.60" cy="1148.30" r="0.95" fill="#fff"/>
<circle cx="779.30" cy="1148.30" r="0.95" fill="#fff"/>
<circle cx="785.00" cy="1148.30" r="0.95" fill="#fff"/>
<circle cx="790.70" cy="1148.30" r="0.95" fill="#fff"/>
<circle cx="796.40" cy="1148.30" r="0.95" fill="#fff"/>
<circle cx="802.10" cy="1148.30" r="0.95" fill="#fff"/>
</svg>
</body></html>
